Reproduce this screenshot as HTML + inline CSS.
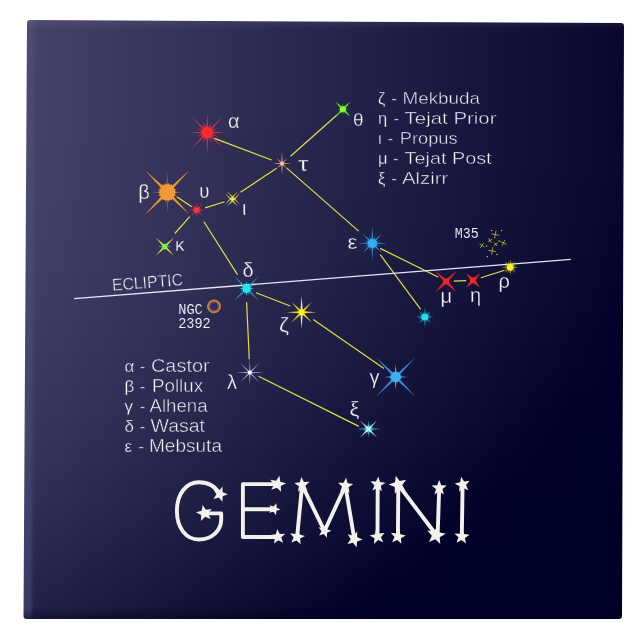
<!DOCTYPE html>
<html><head><meta charset="utf-8"><title>Gemini</title>
<style>
html,body{margin:0;padding:0;background:#fff;}
body{width:644px;height:644px;overflow:hidden;}
svg{display:block;}
text{font-family:"Liberation Sans",sans-serif;}
.mono{font-family:"Liberation Mono",monospace;}
</style></head><body>
<svg width="644" height="644" viewBox="0 0 644 644">
<defs>
<linearGradient id="b0" gradientUnits="userSpaceOnUse" x1="20" y1="0" x2="630" y2="0"><stop offset="0.000" stop-color="#45436a"/><stop offset="0.100" stop-color="#3f3d64"/><stop offset="0.200" stop-color="#39375e"/><stop offset="0.300" stop-color="#323158"/><stop offset="0.400" stop-color="#2c2b52"/><stop offset="0.500" stop-color="#26254c"/><stop offset="0.600" stop-color="#201f46"/><stop offset="0.700" stop-color="#191940"/><stop offset="0.800" stop-color="#13133a"/><stop offset="0.900" stop-color="#0d0d34"/><stop offset="1.000" stop-color="#07072e"/></linearGradient>
<linearGradient id="b1" gradientUnits="userSpaceOnUse" x1="20" y1="0" x2="630" y2="0"><stop offset="0.000" stop-color="#45436a"/><stop offset="0.100" stop-color="#3f3d64"/><stop offset="0.200" stop-color="#39375e"/><stop offset="0.300" stop-color="#323158"/><stop offset="0.400" stop-color="#2c2b52"/><stop offset="0.500" stop-color="#26254c"/><stop offset="0.600" stop-color="#201f46"/><stop offset="0.700" stop-color="#191940"/><stop offset="0.800" stop-color="#13133a"/><stop offset="0.900" stop-color="#0d0d34"/><stop offset="1.000" stop-color="#07072e"/></linearGradient>
<linearGradient id="b2" gradientUnits="userSpaceOnUse" x1="20" y1="0" x2="630" y2="0"><stop offset="0.000" stop-color="#45436a"/><stop offset="0.100" stop-color="#3f3d64"/><stop offset="0.200" stop-color="#39375e"/><stop offset="0.300" stop-color="#323158"/><stop offset="0.400" stop-color="#2c2b52"/><stop offset="0.500" stop-color="#26254c"/><stop offset="0.600" stop-color="#201f46"/><stop offset="0.700" stop-color="#191940"/><stop offset="0.800" stop-color="#13133a"/><stop offset="0.900" stop-color="#0d0d34"/><stop offset="1.000" stop-color="#07072e"/></linearGradient>
<linearGradient id="b3" gradientUnits="userSpaceOnUse" x1="20" y1="0" x2="630" y2="0"><stop offset="0.000" stop-color="#45436a"/><stop offset="0.100" stop-color="#3f3d64"/><stop offset="0.200" stop-color="#39375e"/><stop offset="0.300" stop-color="#323158"/><stop offset="0.400" stop-color="#2c2b52"/><stop offset="0.500" stop-color="#26254c"/><stop offset="0.600" stop-color="#201f46"/><stop offset="0.700" stop-color="#191940"/><stop offset="0.800" stop-color="#13133a"/><stop offset="0.900" stop-color="#0d0d34"/><stop offset="1.000" stop-color="#07072e"/></linearGradient>
<linearGradient id="b4" gradientUnits="userSpaceOnUse" x1="20" y1="0" x2="630" y2="0"><stop offset="0.000" stop-color="#45436a"/><stop offset="0.100" stop-color="#3f3d64"/><stop offset="0.200" stop-color="#39375e"/><stop offset="0.300" stop-color="#323158"/><stop offset="0.400" stop-color="#2c2b52"/><stop offset="0.500" stop-color="#26254c"/><stop offset="0.600" stop-color="#201f46"/><stop offset="0.700" stop-color="#191940"/><stop offset="0.800" stop-color="#13133a"/><stop offset="0.900" stop-color="#0d0d34"/><stop offset="1.000" stop-color="#07072e"/></linearGradient>
<linearGradient id="b5" gradientUnits="userSpaceOnUse" x1="20" y1="0" x2="630" y2="0"><stop offset="0.000" stop-color="#45436a"/><stop offset="0.100" stop-color="#3f3d64"/><stop offset="0.200" stop-color="#39375e"/><stop offset="0.300" stop-color="#323158"/><stop offset="0.400" stop-color="#2c2b52"/><stop offset="0.500" stop-color="#26254c"/><stop offset="0.600" stop-color="#201f46"/><stop offset="0.700" stop-color="#191940"/><stop offset="0.800" stop-color="#13133a"/><stop offset="0.900" stop-color="#0d0d34"/><stop offset="1.000" stop-color="#07072e"/></linearGradient>
<linearGradient id="b6" gradientUnits="userSpaceOnUse" x1="20" y1="0" x2="630" y2="0"><stop offset="0.000" stop-color="#45436a"/><stop offset="0.100" stop-color="#3f3d64"/><stop offset="0.200" stop-color="#39375e"/><stop offset="0.300" stop-color="#323158"/><stop offset="0.400" stop-color="#2c2b52"/><stop offset="0.500" stop-color="#26254c"/><stop offset="0.600" stop-color="#201f46"/><stop offset="0.700" stop-color="#191940"/><stop offset="0.800" stop-color="#13133a"/><stop offset="0.900" stop-color="#0d0d34"/><stop offset="1.000" stop-color="#07072e"/></linearGradient>
<linearGradient id="b7" gradientUnits="userSpaceOnUse" x1="20" y1="0" x2="630" y2="0"><stop offset="0.000" stop-color="#45436a"/><stop offset="0.100" stop-color="#3f3d64"/><stop offset="0.200" stop-color="#39375e"/><stop offset="0.300" stop-color="#323158"/><stop offset="0.400" stop-color="#2c2b52"/><stop offset="0.500" stop-color="#26254c"/><stop offset="0.600" stop-color="#201f46"/><stop offset="0.700" stop-color="#191940"/><stop offset="0.800" stop-color="#13133a"/><stop offset="0.900" stop-color="#0d0d34"/><stop offset="1.000" stop-color="#07072e"/></linearGradient>
<linearGradient id="b8" gradientUnits="userSpaceOnUse" x1="20" y1="0" x2="630" y2="0"><stop offset="0.000" stop-color="#45436a"/><stop offset="0.100" stop-color="#3f3d64"/><stop offset="0.200" stop-color="#39375e"/><stop offset="0.300" stop-color="#323158"/><stop offset="0.400" stop-color="#2c2b52"/><stop offset="0.500" stop-color="#26254c"/><stop offset="0.600" stop-color="#201f46"/><stop offset="0.700" stop-color="#191940"/><stop offset="0.800" stop-color="#13133a"/><stop offset="0.900" stop-color="#0d0d34"/><stop offset="1.000" stop-color="#07072e"/></linearGradient>
<linearGradient id="b9" gradientUnits="userSpaceOnUse" x1="20" y1="0" x2="630" y2="0"><stop offset="0.000" stop-color="#45436a"/><stop offset="0.100" stop-color="#3f3d64"/><stop offset="0.200" stop-color="#39375e"/><stop offset="0.300" stop-color="#323158"/><stop offset="0.400" stop-color="#2c2b52"/><stop offset="0.500" stop-color="#26254c"/><stop offset="0.600" stop-color="#201f46"/><stop offset="0.700" stop-color="#191940"/><stop offset="0.800" stop-color="#13133a"/><stop offset="0.900" stop-color="#0d0d34"/><stop offset="1.000" stop-color="#07072e"/></linearGradient>
<linearGradient id="b10" gradientUnits="userSpaceOnUse" x1="20" y1="0" x2="630" y2="0"><stop offset="0.000" stop-color="#454369"/><stop offset="0.100" stop-color="#3f3d64"/><stop offset="0.200" stop-color="#38375e"/><stop offset="0.300" stop-color="#323158"/><stop offset="0.400" stop-color="#2c2b52"/><stop offset="0.500" stop-color="#26254c"/><stop offset="0.600" stop-color="#201f46"/><stop offset="0.700" stop-color="#191940"/><stop offset="0.800" stop-color="#13133a"/><stop offset="0.900" stop-color="#0d0d34"/><stop offset="1.000" stop-color="#07062e"/></linearGradient>
<linearGradient id="b11" gradientUnits="userSpaceOnUse" x1="20" y1="0" x2="630" y2="0"><stop offset="0.000" stop-color="#454369"/><stop offset="0.100" stop-color="#3f3d64"/><stop offset="0.200" stop-color="#38375e"/><stop offset="0.300" stop-color="#323158"/><stop offset="0.400" stop-color="#2c2b52"/><stop offset="0.500" stop-color="#26254c"/><stop offset="0.600" stop-color="#201f46"/><stop offset="0.700" stop-color="#191940"/><stop offset="0.800" stop-color="#13133a"/><stop offset="0.900" stop-color="#0d0c34"/><stop offset="1.000" stop-color="#07062e"/></linearGradient>
<linearGradient id="b12" gradientUnits="userSpaceOnUse" x1="20" y1="0" x2="630" y2="0"><stop offset="0.000" stop-color="#454369"/><stop offset="0.100" stop-color="#3f3d63"/><stop offset="0.200" stop-color="#38375e"/><stop offset="0.300" stop-color="#323158"/><stop offset="0.400" stop-color="#2c2b52"/><stop offset="0.500" stop-color="#26254c"/><stop offset="0.600" stop-color="#1f1f46"/><stop offset="0.700" stop-color="#191940"/><stop offset="0.800" stop-color="#13123a"/><stop offset="0.900" stop-color="#0d0c34"/><stop offset="1.000" stop-color="#07062e"/></linearGradient>
<linearGradient id="b13" gradientUnits="userSpaceOnUse" x1="20" y1="0" x2="630" y2="0"><stop offset="0.000" stop-color="#454369"/><stop offset="0.100" stop-color="#3f3d63"/><stop offset="0.200" stop-color="#38375d"/><stop offset="0.300" stop-color="#323158"/><stop offset="0.400" stop-color="#2c2b52"/><stop offset="0.500" stop-color="#26254c"/><stop offset="0.600" stop-color="#1f1e46"/><stop offset="0.700" stop-color="#191840"/><stop offset="0.800" stop-color="#13123a"/><stop offset="0.900" stop-color="#0d0c34"/><stop offset="1.000" stop-color="#07062e"/></linearGradient>
<linearGradient id="b14" gradientUnits="userSpaceOnUse" x1="20" y1="0" x2="630" y2="0"><stop offset="0.000" stop-color="#454369"/><stop offset="0.100" stop-color="#3e3d63"/><stop offset="0.200" stop-color="#38375d"/><stop offset="0.300" stop-color="#323158"/><stop offset="0.400" stop-color="#2c2a52"/><stop offset="0.500" stop-color="#26244c"/><stop offset="0.600" stop-color="#1f1e46"/><stop offset="0.700" stop-color="#191840"/><stop offset="0.800" stop-color="#13123a"/><stop offset="0.900" stop-color="#0d0c34"/><stop offset="1.000" stop-color="#06062e"/></linearGradient>
<linearGradient id="b15" gradientUnits="userSpaceOnUse" x1="20" y1="0" x2="630" y2="0"><stop offset="0.000" stop-color="#454369"/><stop offset="0.100" stop-color="#3e3d63"/><stop offset="0.200" stop-color="#38365d"/><stop offset="0.300" stop-color="#323057"/><stop offset="0.400" stop-color="#2c2a52"/><stop offset="0.500" stop-color="#25244c"/><stop offset="0.600" stop-color="#1f1e46"/><stop offset="0.700" stop-color="#191840"/><stop offset="0.800" stop-color="#13123a"/><stop offset="0.900" stop-color="#0d0c34"/><stop offset="1.000" stop-color="#06062e"/></linearGradient>
<linearGradient id="b16" gradientUnits="userSpaceOnUse" x1="20" y1="0" x2="630" y2="0"><stop offset="0.000" stop-color="#454269"/><stop offset="0.100" stop-color="#3e3c63"/><stop offset="0.200" stop-color="#38365d"/><stop offset="0.300" stop-color="#323057"/><stop offset="0.400" stop-color="#2c2a51"/><stop offset="0.500" stop-color="#25244c"/><stop offset="0.600" stop-color="#1f1e46"/><stop offset="0.700" stop-color="#191840"/><stop offset="0.800" stop-color="#13123a"/><stop offset="0.900" stop-color="#0d0c34"/><stop offset="1.000" stop-color="#06062e"/></linearGradient>
<linearGradient id="b17" gradientUnits="userSpaceOnUse" x1="20" y1="0" x2="630" y2="0"><stop offset="0.000" stop-color="#444269"/><stop offset="0.100" stop-color="#3e3c63"/><stop offset="0.200" stop-color="#38365d"/><stop offset="0.300" stop-color="#323057"/><stop offset="0.400" stop-color="#2c2a51"/><stop offset="0.500" stop-color="#25244b"/><stop offset="0.600" stop-color="#1f1e46"/><stop offset="0.700" stop-color="#191840"/><stop offset="0.800" stop-color="#13123a"/><stop offset="0.900" stop-color="#0c0c34"/><stop offset="1.000" stop-color="#06062e"/></linearGradient>
<linearGradient id="b18" gradientUnits="userSpaceOnUse" x1="20" y1="0" x2="630" y2="0"><stop offset="0.000" stop-color="#444269"/><stop offset="0.100" stop-color="#3e3c63"/><stop offset="0.200" stop-color="#38365d"/><stop offset="0.300" stop-color="#323057"/><stop offset="0.400" stop-color="#2b2a51"/><stop offset="0.500" stop-color="#25244b"/><stop offset="0.600" stop-color="#1f1e45"/><stop offset="0.700" stop-color="#191840"/><stop offset="0.800" stop-color="#13123a"/><stop offset="0.900" stop-color="#0c0c34"/><stop offset="1.000" stop-color="#06062e"/></linearGradient>
<linearGradient id="b19" gradientUnits="userSpaceOnUse" x1="20" y1="0" x2="630" y2="0"><stop offset="0.000" stop-color="#444269"/><stop offset="0.100" stop-color="#3e3c63"/><stop offset="0.200" stop-color="#38365d"/><stop offset="0.300" stop-color="#313057"/><stop offset="0.400" stop-color="#2b2a51"/><stop offset="0.500" stop-color="#25244b"/><stop offset="0.600" stop-color="#1f1e45"/><stop offset="0.700" stop-color="#19183f"/><stop offset="0.800" stop-color="#121239"/><stop offset="0.900" stop-color="#0c0c34"/><stop offset="1.000" stop-color="#06062e"/></linearGradient>
<linearGradient id="b20" gradientUnits="userSpaceOnUse" x1="20" y1="0" x2="630" y2="0"><stop offset="0.000" stop-color="#444269"/><stop offset="0.100" stop-color="#3e3c63"/><stop offset="0.200" stop-color="#38365d"/><stop offset="0.300" stop-color="#313057"/><stop offset="0.400" stop-color="#2b2a51"/><stop offset="0.500" stop-color="#25244b"/><stop offset="0.600" stop-color="#1f1e45"/><stop offset="0.700" stop-color="#18183f"/><stop offset="0.800" stop-color="#121239"/><stop offset="0.900" stop-color="#0c0c33"/><stop offset="1.000" stop-color="#06062e"/></linearGradient>
<linearGradient id="b21" gradientUnits="userSpaceOnUse" x1="20" y1="0" x2="630" y2="0"><stop offset="0.000" stop-color="#444268"/><stop offset="0.100" stop-color="#3e3c63"/><stop offset="0.200" stop-color="#37365d"/><stop offset="0.300" stop-color="#313057"/><stop offset="0.400" stop-color="#2b2a51"/><stop offset="0.500" stop-color="#25244b"/><stop offset="0.600" stop-color="#1f1e45"/><stop offset="0.700" stop-color="#18183f"/><stop offset="0.800" stop-color="#121239"/><stop offset="0.900" stop-color="#0c0c33"/><stop offset="1.000" stop-color="#06052d"/></linearGradient>
<linearGradient id="b22" gradientUnits="userSpaceOnUse" x1="20" y1="0" x2="630" y2="0"><stop offset="0.000" stop-color="#444268"/><stop offset="0.100" stop-color="#3d3c62"/><stop offset="0.200" stop-color="#37365d"/><stop offset="0.300" stop-color="#313057"/><stop offset="0.400" stop-color="#2b2a51"/><stop offset="0.500" stop-color="#25244b"/><stop offset="0.600" stop-color="#1e1d45"/><stop offset="0.700" stop-color="#18173f"/><stop offset="0.800" stop-color="#121139"/><stop offset="0.900" stop-color="#0c0b33"/><stop offset="1.000" stop-color="#05052d"/></linearGradient>
<linearGradient id="b23" gradientUnits="userSpaceOnUse" x1="20" y1="0" x2="630" y2="0"><stop offset="0.000" stop-color="#444268"/><stop offset="0.100" stop-color="#3d3b62"/><stop offset="0.200" stop-color="#37355c"/><stop offset="0.300" stop-color="#312f56"/><stop offset="0.400" stop-color="#2b2951"/><stop offset="0.500" stop-color="#24234b"/><stop offset="0.600" stop-color="#1e1d45"/><stop offset="0.700" stop-color="#18173f"/><stop offset="0.800" stop-color="#121139"/><stop offset="0.900" stop-color="#0c0b33"/><stop offset="1.000" stop-color="#05052d"/></linearGradient>
<linearGradient id="b24" gradientUnits="userSpaceOnUse" x1="20" y1="0" x2="630" y2="0"><stop offset="0.000" stop-color="#434168"/><stop offset="0.100" stop-color="#3d3b62"/><stop offset="0.200" stop-color="#37355c"/><stop offset="0.300" stop-color="#312f56"/><stop offset="0.400" stop-color="#2a2950"/><stop offset="0.500" stop-color="#24234a"/><stop offset="0.600" stop-color="#1e1d45"/><stop offset="0.700" stop-color="#18173f"/><stop offset="0.800" stop-color="#121139"/><stop offset="0.900" stop-color="#0b0b33"/><stop offset="1.000" stop-color="#05052d"/></linearGradient>
<linearGradient id="b25" gradientUnits="userSpaceOnUse" x1="20" y1="0" x2="630" y2="0"><stop offset="0.000" stop-color="#434168"/><stop offset="0.100" stop-color="#3d3b62"/><stop offset="0.200" stop-color="#37355c"/><stop offset="0.300" stop-color="#302f56"/><stop offset="0.400" stop-color="#2a2950"/><stop offset="0.500" stop-color="#24234a"/><stop offset="0.600" stop-color="#1e1d44"/><stop offset="0.700" stop-color="#18173e"/><stop offset="0.800" stop-color="#111138"/><stop offset="0.900" stop-color="#0b0b33"/><stop offset="1.000" stop-color="#05052d"/></linearGradient>
<linearGradient id="b26" gradientUnits="userSpaceOnUse" x1="20" y1="0" x2="630" y2="0"><stop offset="0.000" stop-color="#434168"/><stop offset="0.100" stop-color="#3d3b62"/><stop offset="0.200" stop-color="#36355c"/><stop offset="0.300" stop-color="#302f56"/><stop offset="0.400" stop-color="#2a2950"/><stop offset="0.500" stop-color="#24234a"/><stop offset="0.600" stop-color="#1e1d44"/><stop offset="0.700" stop-color="#17173e"/><stop offset="0.800" stop-color="#111138"/><stop offset="0.900" stop-color="#0b0b32"/><stop offset="1.000" stop-color="#05052c"/></linearGradient>
<linearGradient id="b27" gradientUnits="userSpaceOnUse" x1="20" y1="0" x2="630" y2="0"><stop offset="0.000" stop-color="#434167"/><stop offset="0.100" stop-color="#3c3b61"/><stop offset="0.200" stop-color="#36355c"/><stop offset="0.300" stop-color="#302f56"/><stop offset="0.400" stop-color="#2a2950"/><stop offset="0.500" stop-color="#24234a"/><stop offset="0.600" stop-color="#1d1c44"/><stop offset="0.700" stop-color="#17163e"/><stop offset="0.800" stop-color="#111038"/><stop offset="0.900" stop-color="#0b0a32"/><stop offset="1.000" stop-color="#04042c"/></linearGradient>
<linearGradient id="b28" gradientUnits="userSpaceOnUse" x1="20" y1="0" x2="630" y2="0"><stop offset="0.000" stop-color="#424067"/><stop offset="0.100" stop-color="#3c3a61"/><stop offset="0.200" stop-color="#36345b"/><stop offset="0.300" stop-color="#302e55"/><stop offset="0.400" stop-color="#2a284f"/><stop offset="0.500" stop-color="#23224a"/><stop offset="0.600" stop-color="#1d1c44"/><stop offset="0.700" stop-color="#17163e"/><stop offset="0.800" stop-color="#111038"/><stop offset="0.900" stop-color="#0a0a32"/><stop offset="1.000" stop-color="#04042c"/></linearGradient>
<linearGradient id="b29" gradientUnits="userSpaceOnUse" x1="20" y1="0" x2="630" y2="0"><stop offset="0.000" stop-color="#424067"/><stop offset="0.100" stop-color="#3c3a61"/><stop offset="0.200" stop-color="#36345b"/><stop offset="0.300" stop-color="#302e55"/><stop offset="0.400" stop-color="#29284f"/><stop offset="0.500" stop-color="#232249"/><stop offset="0.600" stop-color="#1d1c43"/><stop offset="0.700" stop-color="#17163d"/><stop offset="0.800" stop-color="#101038"/><stop offset="0.900" stop-color="#0a0a32"/><stop offset="1.000" stop-color="#04042c"/></linearGradient>
<linearGradient id="b30" gradientUnits="userSpaceOnUse" x1="20" y1="0" x2="630" y2="0"><stop offset="0.000" stop-color="#424067"/><stop offset="0.100" stop-color="#3c3a61"/><stop offset="0.200" stop-color="#35345b"/><stop offset="0.300" stop-color="#2f2e55"/><stop offset="0.400" stop-color="#29284f"/><stop offset="0.500" stop-color="#232249"/><stop offset="0.600" stop-color="#1d1c43"/><stop offset="0.700" stop-color="#16163d"/><stop offset="0.800" stop-color="#101037"/><stop offset="0.900" stop-color="#0a0a31"/><stop offset="1.000" stop-color="#04042b"/></linearGradient>
<linearGradient id="b31" gradientUnits="userSpaceOnUse" x1="20" y1="0" x2="630" y2="0"><stop offset="0.000" stop-color="#424066"/><stop offset="0.100" stop-color="#3b3a60"/><stop offset="0.200" stop-color="#35345b"/><stop offset="0.300" stop-color="#2f2e55"/><stop offset="0.400" stop-color="#29284f"/><stop offset="0.500" stop-color="#232149"/><stop offset="0.600" stop-color="#1c1b43"/><stop offset="0.700" stop-color="#16153d"/><stop offset="0.800" stop-color="#100f37"/><stop offset="0.900" stop-color="#0a0931"/><stop offset="1.000" stop-color="#03032b"/></linearGradient>
<linearGradient id="b32" gradientUnits="userSpaceOnUse" x1="20" y1="0" x2="630" y2="0"><stop offset="0.000" stop-color="#413f66"/><stop offset="0.100" stop-color="#3b3960"/><stop offset="0.200" stop-color="#35335a"/><stop offset="0.300" stop-color="#2f2d54"/><stop offset="0.400" stop-color="#28274e"/><stop offset="0.500" stop-color="#222148"/><stop offset="0.600" stop-color="#1c1b43"/><stop offset="0.700" stop-color="#16153d"/><stop offset="0.800" stop-color="#100f37"/><stop offset="0.900" stop-color="#090931"/><stop offset="1.000" stop-color="#03032b"/></linearGradient>
<linearGradient id="b33" gradientUnits="userSpaceOnUse" x1="20" y1="0" x2="630" y2="0"><stop offset="0.000" stop-color="#413f66"/><stop offset="0.100" stop-color="#3b3960"/><stop offset="0.200" stop-color="#35335a"/><stop offset="0.300" stop-color="#2e2d54"/><stop offset="0.400" stop-color="#28274e"/><stop offset="0.500" stop-color="#222148"/><stop offset="0.600" stop-color="#1c1b42"/><stop offset="0.700" stop-color="#15153c"/><stop offset="0.800" stop-color="#0f0f36"/><stop offset="0.900" stop-color="#090931"/><stop offset="1.000" stop-color="#03032b"/></linearGradient>
<linearGradient id="b34" gradientUnits="userSpaceOnUse" x1="20" y1="0" x2="630" y2="0"><stop offset="0.000" stop-color="#413f65"/><stop offset="0.100" stop-color="#3a395f"/><stop offset="0.200" stop-color="#34335a"/><stop offset="0.300" stop-color="#2e2d54"/><stop offset="0.400" stop-color="#28274e"/><stop offset="0.500" stop-color="#222148"/><stop offset="0.600" stop-color="#1b1a42"/><stop offset="0.700" stop-color="#15143c"/><stop offset="0.800" stop-color="#0f0e36"/><stop offset="0.900" stop-color="#090830"/><stop offset="1.000" stop-color="#02022a"/></linearGradient>
<linearGradient id="b35" gradientUnits="userSpaceOnUse" x1="20" y1="0" x2="630" y2="0"><stop offset="0.000" stop-color="#403e65"/><stop offset="0.100" stop-color="#3a385f"/><stop offset="0.200" stop-color="#343259"/><stop offset="0.300" stop-color="#2e2c53"/><stop offset="0.400" stop-color="#27264d"/><stop offset="0.500" stop-color="#212048"/><stop offset="0.600" stop-color="#1b1a42"/><stop offset="0.700" stop-color="#15143c"/><stop offset="0.800" stop-color="#0f0e36"/><stop offset="0.900" stop-color="#080830"/><stop offset="1.000" stop-color="#02022a"/></linearGradient>
<linearGradient id="b36" gradientUnits="userSpaceOnUse" x1="20" y1="0" x2="630" y2="0"><stop offset="0.000" stop-color="#403e65"/><stop offset="0.100" stop-color="#3a385f"/><stop offset="0.200" stop-color="#333259"/><stop offset="0.300" stop-color="#2d2c53"/><stop offset="0.400" stop-color="#27264d"/><stop offset="0.500" stop-color="#212047"/><stop offset="0.600" stop-color="#1b1a41"/><stop offset="0.700" stop-color="#14143b"/><stop offset="0.800" stop-color="#0e0e35"/><stop offset="0.900" stop-color="#080830"/><stop offset="1.000" stop-color="#02022a"/></linearGradient>
<linearGradient id="b37" gradientUnits="userSpaceOnUse" x1="20" y1="0" x2="630" y2="0"><stop offset="0.000" stop-color="#403e64"/><stop offset="0.100" stop-color="#39385e"/><stop offset="0.200" stop-color="#333259"/><stop offset="0.300" stop-color="#2d2b53"/><stop offset="0.400" stop-color="#27254d"/><stop offset="0.500" stop-color="#201f47"/><stop offset="0.600" stop-color="#1a1941"/><stop offset="0.700" stop-color="#14133b"/><stop offset="0.800" stop-color="#0e0d35"/><stop offset="0.900" stop-color="#08072f"/><stop offset="1.000" stop-color="#010129"/></linearGradient>
<linearGradient id="b38" gradientUnits="userSpaceOnUse" x1="20" y1="0" x2="630" y2="0"><stop offset="0.000" stop-color="#3f3d64"/><stop offset="0.100" stop-color="#39375e"/><stop offset="0.200" stop-color="#333158"/><stop offset="0.300" stop-color="#2c2b52"/><stop offset="0.400" stop-color="#26254c"/><stop offset="0.500" stop-color="#201f46"/><stop offset="0.600" stop-color="#1a1940"/><stop offset="0.700" stop-color="#14133b"/><stop offset="0.800" stop-color="#0d0d35"/><stop offset="0.900" stop-color="#07072f"/><stop offset="1.000" stop-color="#010129"/></linearGradient>
<linearGradient id="b39" gradientUnits="userSpaceOnUse" x1="20" y1="0" x2="630" y2="0"><stop offset="0.000" stop-color="#3f3d64"/><stop offset="0.100" stop-color="#38375e"/><stop offset="0.200" stop-color="#323158"/><stop offset="0.300" stop-color="#2c2b52"/><stop offset="0.400" stop-color="#26254c"/><stop offset="0.500" stop-color="#201f46"/><stop offset="0.600" stop-color="#191940"/><stop offset="0.700" stop-color="#13133a"/><stop offset="0.800" stop-color="#0d0d34"/><stop offset="0.900" stop-color="#07062e"/><stop offset="1.000" stop-color="#000028"/></linearGradient>
<linearGradient id="b40" gradientUnits="userSpaceOnUse" x1="20" y1="0" x2="630" y2="0"><stop offset="0.000" stop-color="#3e3c63"/><stop offset="0.100" stop-color="#38365d"/><stop offset="0.200" stop-color="#323057"/><stop offset="0.300" stop-color="#2c2a51"/><stop offset="0.400" stop-color="#25244b"/><stop offset="0.500" stop-color="#1f1e46"/><stop offset="0.600" stop-color="#191840"/><stop offset="0.700" stop-color="#13123a"/><stop offset="0.800" stop-color="#0c0c34"/><stop offset="0.900" stop-color="#06062e"/><stop offset="1.000" stop-color="#000028"/></linearGradient>
<linearGradient id="b41" gradientUnits="userSpaceOnUse" x1="20" y1="0" x2="630" y2="0"><stop offset="0.000" stop-color="#3e3c63"/><stop offset="0.100" stop-color="#38365d"/><stop offset="0.200" stop-color="#313057"/><stop offset="0.300" stop-color="#2b2a51"/><stop offset="0.400" stop-color="#25244b"/><stop offset="0.500" stop-color="#1f1e45"/><stop offset="0.600" stop-color="#18183f"/><stop offset="0.700" stop-color="#121239"/><stop offset="0.800" stop-color="#0c0c33"/><stop offset="0.900" stop-color="#06062d"/><stop offset="1.000" stop-color="#000028"/></linearGradient>
<linearGradient id="b42" gradientUnits="userSpaceOnUse" x1="20" y1="0" x2="630" y2="0"><stop offset="0.000" stop-color="#3d3b62"/><stop offset="0.100" stop-color="#37355c"/><stop offset="0.200" stop-color="#312f56"/><stop offset="0.300" stop-color="#2b2950"/><stop offset="0.400" stop-color="#24234b"/><stop offset="0.500" stop-color="#1e1d45"/><stop offset="0.600" stop-color="#18173f"/><stop offset="0.700" stop-color="#121139"/><stop offset="0.800" stop-color="#0c0b33"/><stop offset="0.900" stop-color="#05052d"/><stop offset="1.000" stop-color="#000028"/></linearGradient>
<linearGradient id="b43" gradientUnits="userSpaceOnUse" x1="20" y1="0" x2="630" y2="0"><stop offset="0.000" stop-color="#3d3b62"/><stop offset="0.100" stop-color="#37355c"/><stop offset="0.200" stop-color="#302f56"/><stop offset="0.300" stop-color="#2a2950"/><stop offset="0.400" stop-color="#24234a"/><stop offset="0.500" stop-color="#1e1d44"/><stop offset="0.600" stop-color="#17173e"/><stop offset="0.700" stop-color="#111138"/><stop offset="0.800" stop-color="#0b0b32"/><stop offset="0.900" stop-color="#05052d"/><stop offset="1.000" stop-color="#000028"/></linearGradient>
<linearGradient id="b44" gradientUnits="userSpaceOnUse" x1="20" y1="0" x2="630" y2="0"><stop offset="0.000" stop-color="#3c3a61"/><stop offset="0.100" stop-color="#36345b"/><stop offset="0.200" stop-color="#302e55"/><stop offset="0.300" stop-color="#2a2850"/><stop offset="0.400" stop-color="#23224a"/><stop offset="0.500" stop-color="#1d1c44"/><stop offset="0.600" stop-color="#17163e"/><stop offset="0.700" stop-color="#111038"/><stop offset="0.800" stop-color="#0a0a32"/><stop offset="0.900" stop-color="#04042c"/><stop offset="1.000" stop-color="#000028"/></linearGradient>
<linearGradient id="b45" gradientUnits="userSpaceOnUse" x1="20" y1="0" x2="630" y2="0"><stop offset="0.000" stop-color="#3c3a61"/><stop offset="0.100" stop-color="#36345b"/><stop offset="0.200" stop-color="#2f2e55"/><stop offset="0.300" stop-color="#29284f"/><stop offset="0.400" stop-color="#232249"/><stop offset="0.500" stop-color="#1d1c43"/><stop offset="0.600" stop-color="#16163d"/><stop offset="0.700" stop-color="#101037"/><stop offset="0.800" stop-color="#0a0a31"/><stop offset="0.900" stop-color="#04042c"/><stop offset="1.000" stop-color="#000028"/></linearGradient>
<linearGradient id="b46" gradientUnits="userSpaceOnUse" x1="20" y1="0" x2="630" y2="0"><stop offset="0.000" stop-color="#3b3960"/><stop offset="0.100" stop-color="#35335a"/><stop offset="0.200" stop-color="#2f2d54"/><stop offset="0.300" stop-color="#29274e"/><stop offset="0.400" stop-color="#222149"/><stop offset="0.500" stop-color="#1c1b43"/><stop offset="0.600" stop-color="#16153d"/><stop offset="0.700" stop-color="#100f37"/><stop offset="0.800" stop-color="#090931"/><stop offset="0.900" stop-color="#03032b"/><stop offset="1.000" stop-color="#000028"/></linearGradient>
<linearGradient id="b47" gradientUnits="userSpaceOnUse" x1="20" y1="0" x2="630" y2="0"><stop offset="0.000" stop-color="#3b3960"/><stop offset="0.100" stop-color="#34335a"/><stop offset="0.200" stop-color="#2e2d54"/><stop offset="0.300" stop-color="#28274e"/><stop offset="0.400" stop-color="#222148"/><stop offset="0.500" stop-color="#1b1b42"/><stop offset="0.600" stop-color="#15153c"/><stop offset="0.700" stop-color="#0f0f36"/><stop offset="0.800" stop-color="#090930"/><stop offset="0.900" stop-color="#03032a"/><stop offset="1.000" stop-color="#000028"/></linearGradient>
<linearGradient id="b48" gradientUnits="userSpaceOnUse" x1="20" y1="0" x2="630" y2="0"><stop offset="0.000" stop-color="#3a385f"/><stop offset="0.100" stop-color="#343259"/><stop offset="0.200" stop-color="#2e2c53"/><stop offset="0.300" stop-color="#27264d"/><stop offset="0.400" stop-color="#212047"/><stop offset="0.500" stop-color="#1b1a42"/><stop offset="0.600" stop-color="#15143c"/><stop offset="0.700" stop-color="#0e0e36"/><stop offset="0.800" stop-color="#080830"/><stop offset="0.900" stop-color="#02022a"/><stop offset="1.000" stop-color="#000028"/></linearGradient>
<linearGradient id="b49" gradientUnits="userSpaceOnUse" x1="20" y1="0" x2="630" y2="0"><stop offset="0.000" stop-color="#39385f"/><stop offset="0.100" stop-color="#333259"/><stop offset="0.200" stop-color="#2d2c53"/><stop offset="0.300" stop-color="#27264d"/><stop offset="0.400" stop-color="#202047"/><stop offset="0.500" stop-color="#1a1941"/><stop offset="0.600" stop-color="#14133b"/><stop offset="0.700" stop-color="#0e0d35"/><stop offset="0.800" stop-color="#08072f"/><stop offset="0.900" stop-color="#010129"/><stop offset="1.000" stop-color="#000028"/></linearGradient>
<linearGradient id="b50" gradientUnits="userSpaceOnUse" x1="20" y1="0" x2="630" y2="0"><stop offset="0.000" stop-color="#39375e"/><stop offset="0.100" stop-color="#333158"/><stop offset="0.200" stop-color="#2c2b52"/><stop offset="0.300" stop-color="#26254c"/><stop offset="0.400" stop-color="#201f46"/><stop offset="0.500" stop-color="#1a1940"/><stop offset="0.600" stop-color="#13133a"/><stop offset="0.700" stop-color="#0d0d35"/><stop offset="0.800" stop-color="#07072f"/><stop offset="0.900" stop-color="#010129"/><stop offset="1.000" stop-color="#000028"/></linearGradient>
<linearGradient id="b51" gradientUnits="userSpaceOnUse" x1="20" y1="0" x2="630" y2="0"><stop offset="0.000" stop-color="#38365d"/><stop offset="0.100" stop-color="#323057"/><stop offset="0.200" stop-color="#2c2a51"/><stop offset="0.300" stop-color="#25244c"/><stop offset="0.400" stop-color="#1f1e46"/><stop offset="0.500" stop-color="#191840"/><stop offset="0.600" stop-color="#13123a"/><stop offset="0.700" stop-color="#0d0c34"/><stop offset="0.800" stop-color="#06062e"/><stop offset="0.900" stop-color="#000028"/><stop offset="1.000" stop-color="#000028"/></linearGradient>
<linearGradient id="b52" gradientUnits="userSpaceOnUse" x1="20" y1="0" x2="630" y2="0"><stop offset="0.000" stop-color="#37365d"/><stop offset="0.100" stop-color="#313057"/><stop offset="0.200" stop-color="#2b2a51"/><stop offset="0.300" stop-color="#25244b"/><stop offset="0.400" stop-color="#1f1e45"/><stop offset="0.500" stop-color="#18183f"/><stop offset="0.600" stop-color="#121239"/><stop offset="0.700" stop-color="#0c0b33"/><stop offset="0.800" stop-color="#06052d"/><stop offset="0.900" stop-color="#000028"/><stop offset="1.000" stop-color="#000028"/></linearGradient>
<linearGradient id="b53" gradientUnits="userSpaceOnUse" x1="20" y1="0" x2="630" y2="0"><stop offset="0.000" stop-color="#37355c"/><stop offset="0.100" stop-color="#302f56"/><stop offset="0.200" stop-color="#2a2950"/><stop offset="0.300" stop-color="#24234a"/><stop offset="0.400" stop-color="#1e1d44"/><stop offset="0.500" stop-color="#18173e"/><stop offset="0.600" stop-color="#111139"/><stop offset="0.700" stop-color="#0b0b33"/><stop offset="0.800" stop-color="#05052d"/><stop offset="0.900" stop-color="#000028"/><stop offset="1.000" stop-color="#000028"/></linearGradient>
<linearGradient id="b54" gradientUnits="userSpaceOnUse" x1="20" y1="0" x2="630" y2="0"><stop offset="0.000" stop-color="#36345b"/><stop offset="0.100" stop-color="#302e55"/><stop offset="0.200" stop-color="#2a284f"/><stop offset="0.300" stop-color="#23224a"/><stop offset="0.400" stop-color="#1d1c44"/><stop offset="0.500" stop-color="#17163e"/><stop offset="0.600" stop-color="#111038"/><stop offset="0.700" stop-color="#0a0a32"/><stop offset="0.800" stop-color="#04042c"/><stop offset="0.900" stop-color="#000028"/><stop offset="1.000" stop-color="#000028"/></linearGradient>
<linearGradient id="b55" gradientUnits="userSpaceOnUse" x1="20" y1="0" x2="630" y2="0"><stop offset="0.000" stop-color="#35345b"/><stop offset="0.100" stop-color="#2f2e55"/><stop offset="0.200" stop-color="#29284f"/><stop offset="0.300" stop-color="#232249"/><stop offset="0.400" stop-color="#1c1c43"/><stop offset="0.500" stop-color="#16153d"/><stop offset="0.600" stop-color="#100f37"/><stop offset="0.700" stop-color="#0a0931"/><stop offset="0.800" stop-color="#03032b"/><stop offset="0.900" stop-color="#000028"/><stop offset="1.000" stop-color="#000028"/></linearGradient>
<linearGradient id="b56" gradientUnits="userSpaceOnUse" x1="20" y1="0" x2="630" y2="0"><stop offset="0.000" stop-color="#34335a"/><stop offset="0.100" stop-color="#2e2d54"/><stop offset="0.200" stop-color="#28274e"/><stop offset="0.300" stop-color="#222148"/><stop offset="0.400" stop-color="#1c1b42"/><stop offset="0.500" stop-color="#15153c"/><stop offset="0.600" stop-color="#0f0f36"/><stop offset="0.700" stop-color="#090930"/><stop offset="0.800" stop-color="#03032b"/><stop offset="0.900" stop-color="#000028"/><stop offset="1.000" stop-color="#000028"/></linearGradient>
<linearGradient id="b57" gradientUnits="userSpaceOnUse" x1="20" y1="0" x2="630" y2="0"><stop offset="0.000" stop-color="#343259"/><stop offset="0.100" stop-color="#2d2c53"/><stop offset="0.200" stop-color="#27264d"/><stop offset="0.300" stop-color="#212047"/><stop offset="0.400" stop-color="#1b1a41"/><stop offset="0.500" stop-color="#15143c"/><stop offset="0.600" stop-color="#0e0e36"/><stop offset="0.700" stop-color="#080830"/><stop offset="0.800" stop-color="#02022a"/><stop offset="0.900" stop-color="#000028"/><stop offset="1.000" stop-color="#000028"/></linearGradient>
<linearGradient id="b58" gradientUnits="userSpaceOnUse" x1="20" y1="0" x2="630" y2="0"><stop offset="0.000" stop-color="#333158"/><stop offset="0.100" stop-color="#2d2b52"/><stop offset="0.200" stop-color="#26254d"/><stop offset="0.300" stop-color="#201f47"/><stop offset="0.400" stop-color="#1a1941"/><stop offset="0.500" stop-color="#14133b"/><stop offset="0.600" stop-color="#0e0d35"/><stop offset="0.700" stop-color="#07072f"/><stop offset="0.800" stop-color="#010129"/><stop offset="0.900" stop-color="#000028"/><stop offset="1.000" stop-color="#000028"/></linearGradient>
<linearGradient id="b59" gradientUnits="userSpaceOnUse" x1="20" y1="0" x2="630" y2="0"><stop offset="0.000" stop-color="#323158"/><stop offset="0.100" stop-color="#2c2b52"/><stop offset="0.200" stop-color="#26244c"/><stop offset="0.300" stop-color="#1f1e46"/><stop offset="0.400" stop-color="#191840"/><stop offset="0.500" stop-color="#13123a"/><stop offset="0.600" stop-color="#0d0c34"/><stop offset="0.700" stop-color="#07062e"/><stop offset="0.800" stop-color="#000028"/><stop offset="0.900" stop-color="#000028"/><stop offset="1.000" stop-color="#000028"/></linearGradient>
<linearGradient id="b60" gradientUnits="userSpaceOnUse" x1="20" y1="0" x2="630" y2="0"><stop offset="0.000" stop-color="#313057"/><stop offset="0.100" stop-color="#2b2a51"/><stop offset="0.200" stop-color="#25244b"/><stop offset="0.300" stop-color="#1f1e45"/><stop offset="0.400" stop-color="#18183f"/><stop offset="0.500" stop-color="#121239"/><stop offset="0.600" stop-color="#0c0c33"/><stop offset="0.700" stop-color="#06052d"/><stop offset="0.800" stop-color="#000028"/><stop offset="0.900" stop-color="#000028"/><stop offset="1.000" stop-color="#000028"/></linearGradient>
<linearGradient id="b61" gradientUnits="userSpaceOnUse" x1="20" y1="0" x2="630" y2="0"><stop offset="0.000" stop-color="#302f56"/><stop offset="0.100" stop-color="#2a2950"/><stop offset="0.200" stop-color="#24234a"/><stop offset="0.300" stop-color="#1e1d44"/><stop offset="0.400" stop-color="#17173e"/><stop offset="0.500" stop-color="#111138"/><stop offset="0.600" stop-color="#0b0b32"/><stop offset="0.700" stop-color="#05052d"/><stop offset="0.800" stop-color="#000028"/><stop offset="0.900" stop-color="#000028"/><stop offset="1.000" stop-color="#000028"/></linearGradient>
<linearGradient id="b62" gradientUnits="userSpaceOnUse" x1="20" y1="0" x2="630" y2="0"><stop offset="0.000" stop-color="#2f2e55"/><stop offset="0.100" stop-color="#29284f"/><stop offset="0.200" stop-color="#232249"/><stop offset="0.300" stop-color="#1d1c43"/><stop offset="0.400" stop-color="#17163d"/><stop offset="0.500" stop-color="#101038"/><stop offset="0.600" stop-color="#0a0a32"/><stop offset="0.700" stop-color="#04042c"/><stop offset="0.800" stop-color="#000028"/><stop offset="0.900" stop-color="#000028"/><stop offset="1.000" stop-color="#000028"/></linearGradient>
<linearGradient id="b63" gradientUnits="userSpaceOnUse" x1="20" y1="0" x2="630" y2="0"><stop offset="0.000" stop-color="#2f2d54"/><stop offset="0.100" stop-color="#28274e"/><stop offset="0.200" stop-color="#222148"/><stop offset="0.300" stop-color="#1c1b42"/><stop offset="0.400" stop-color="#16153d"/><stop offset="0.500" stop-color="#0f0f37"/><stop offset="0.600" stop-color="#090931"/><stop offset="0.700" stop-color="#03032b"/><stop offset="0.800" stop-color="#000028"/><stop offset="0.900" stop-color="#000028"/><stop offset="1.000" stop-color="#000028"/></linearGradient>
<linearGradient id="b64" gradientUnits="userSpaceOnUse" x1="20" y1="0" x2="630" y2="0"><stop offset="0.000" stop-color="#2e2c53"/><stop offset="0.100" stop-color="#27264d"/><stop offset="0.200" stop-color="#212047"/><stop offset="0.300" stop-color="#1b1a42"/><stop offset="0.400" stop-color="#15143c"/><stop offset="0.500" stop-color="#0e0e36"/><stop offset="0.600" stop-color="#080830"/><stop offset="0.700" stop-color="#02022a"/><stop offset="0.800" stop-color="#000028"/><stop offset="0.900" stop-color="#000028"/><stop offset="1.000" stop-color="#000028"/></linearGradient>
<linearGradient id="b65" gradientUnits="userSpaceOnUse" x1="20" y1="0" x2="630" y2="0"><stop offset="0.000" stop-color="#2d2b52"/><stop offset="0.100" stop-color="#26254c"/><stop offset="0.200" stop-color="#201f47"/><stop offset="0.300" stop-color="#1a1941"/><stop offset="0.400" stop-color="#14133b"/><stop offset="0.500" stop-color="#0e0d35"/><stop offset="0.600" stop-color="#07072f"/><stop offset="0.700" stop-color="#010129"/><stop offset="0.800" stop-color="#000028"/><stop offset="0.900" stop-color="#000028"/><stop offset="1.000" stop-color="#000028"/></linearGradient>
<linearGradient id="b66" gradientUnits="userSpaceOnUse" x1="20" y1="0" x2="630" y2="0"><stop offset="0.000" stop-color="#2c2a51"/><stop offset="0.100" stop-color="#25244c"/><stop offset="0.200" stop-color="#1f1e46"/><stop offset="0.300" stop-color="#191840"/><stop offset="0.400" stop-color="#13123a"/><stop offset="0.500" stop-color="#0d0c34"/><stop offset="0.600" stop-color="#06062e"/><stop offset="0.700" stop-color="#000028"/><stop offset="0.800" stop-color="#000028"/><stop offset="0.900" stop-color="#000028"/><stop offset="1.000" stop-color="#000028"/></linearGradient>
<linearGradient id="b67" gradientUnits="userSpaceOnUse" x1="20" y1="0" x2="630" y2="0"><stop offset="0.000" stop-color="#2b2950"/><stop offset="0.100" stop-color="#24234b"/><stop offset="0.200" stop-color="#1e1d45"/><stop offset="0.300" stop-color="#18173f"/><stop offset="0.400" stop-color="#121139"/><stop offset="0.500" stop-color="#0c0b33"/><stop offset="0.600" stop-color="#05052d"/><stop offset="0.700" stop-color="#000028"/><stop offset="0.800" stop-color="#000028"/><stop offset="0.900" stop-color="#000028"/><stop offset="1.000" stop-color="#000028"/></linearGradient>
<linearGradient id="b68" gradientUnits="userSpaceOnUse" x1="20" y1="0" x2="630" y2="0"><stop offset="0.000" stop-color="#2a284f"/><stop offset="0.100" stop-color="#23224a"/><stop offset="0.200" stop-color="#1d1c44"/><stop offset="0.300" stop-color="#17163e"/><stop offset="0.400" stop-color="#111038"/><stop offset="0.500" stop-color="#0a0a32"/><stop offset="0.600" stop-color="#04042c"/><stop offset="0.700" stop-color="#000028"/><stop offset="0.800" stop-color="#000028"/><stop offset="0.900" stop-color="#000028"/><stop offset="1.000" stop-color="#000028"/></linearGradient>
<linearGradient id="b69" gradientUnits="userSpaceOnUse" x1="20" y1="0" x2="630" y2="0"><stop offset="0.000" stop-color="#29274e"/><stop offset="0.100" stop-color="#222149"/><stop offset="0.200" stop-color="#1c1b43"/><stop offset="0.300" stop-color="#16153d"/><stop offset="0.400" stop-color="#100f37"/><stop offset="0.500" stop-color="#090931"/><stop offset="0.600" stop-color="#03032b"/><stop offset="0.700" stop-color="#000028"/><stop offset="0.800" stop-color="#000028"/><stop offset="0.900" stop-color="#000028"/><stop offset="1.000" stop-color="#000028"/></linearGradient>
<linearGradient id="b70" gradientUnits="userSpaceOnUse" x1="20" y1="0" x2="630" y2="0"><stop offset="0.000" stop-color="#27264d"/><stop offset="0.100" stop-color="#212048"/><stop offset="0.200" stop-color="#1b1a42"/><stop offset="0.300" stop-color="#15143c"/><stop offset="0.400" stop-color="#0f0e36"/><stop offset="0.500" stop-color="#080830"/><stop offset="0.600" stop-color="#02022a"/><stop offset="0.700" stop-color="#000028"/><stop offset="0.800" stop-color="#000028"/><stop offset="0.900" stop-color="#000028"/><stop offset="1.000" stop-color="#000028"/></linearGradient>
<linearGradient id="b71" gradientUnits="userSpaceOnUse" x1="20" y1="0" x2="630" y2="0"><stop offset="0.000" stop-color="#26254c"/><stop offset="0.100" stop-color="#201f46"/><stop offset="0.200" stop-color="#1a1941"/><stop offset="0.300" stop-color="#14133b"/><stop offset="0.400" stop-color="#0d0d35"/><stop offset="0.500" stop-color="#07072f"/><stop offset="0.600" stop-color="#010129"/><stop offset="0.700" stop-color="#000028"/><stop offset="0.800" stop-color="#000028"/><stop offset="0.900" stop-color="#000028"/><stop offset="1.000" stop-color="#000028"/></linearGradient>
<linearGradient id="b72" gradientUnits="userSpaceOnUse" x1="20" y1="0" x2="630" y2="0"><stop offset="0.000" stop-color="#25244b"/><stop offset="0.100" stop-color="#1f1e45"/><stop offset="0.200" stop-color="#191840"/><stop offset="0.300" stop-color="#13123a"/><stop offset="0.400" stop-color="#0c0c34"/><stop offset="0.500" stop-color="#06062e"/><stop offset="0.600" stop-color="#000028"/><stop offset="0.700" stop-color="#000028"/><stop offset="0.800" stop-color="#000028"/><stop offset="0.900" stop-color="#000028"/><stop offset="1.000" stop-color="#000028"/></linearGradient>
<linearGradient id="b73" gradientUnits="userSpaceOnUse" x1="20" y1="0" x2="630" y2="0"><stop offset="0.000" stop-color="#24234a"/><stop offset="0.100" stop-color="#1e1d44"/><stop offset="0.200" stop-color="#18173e"/><stop offset="0.300" stop-color="#111138"/><stop offset="0.400" stop-color="#0b0b33"/><stop offset="0.500" stop-color="#05052d"/><stop offset="0.600" stop-color="#000028"/><stop offset="0.700" stop-color="#000028"/><stop offset="0.800" stop-color="#000028"/><stop offset="0.900" stop-color="#000028"/><stop offset="1.000" stop-color="#000028"/></linearGradient>
<linearGradient id="b74" gradientUnits="userSpaceOnUse" x1="20" y1="0" x2="630" y2="0"><stop offset="0.000" stop-color="#232249"/><stop offset="0.100" stop-color="#1d1c43"/><stop offset="0.200" stop-color="#16163d"/><stop offset="0.300" stop-color="#101037"/><stop offset="0.400" stop-color="#0a0a31"/><stop offset="0.500" stop-color="#04042c"/><stop offset="0.600" stop-color="#000028"/><stop offset="0.700" stop-color="#000028"/><stop offset="0.800" stop-color="#000028"/><stop offset="0.900" stop-color="#000028"/><stop offset="1.000" stop-color="#000028"/></linearGradient>
<linearGradient id="b75" gradientUnits="userSpaceOnUse" x1="20" y1="0" x2="630" y2="0"><stop offset="0.000" stop-color="#222148"/><stop offset="0.100" stop-color="#1b1b42"/><stop offset="0.200" stop-color="#15153c"/><stop offset="0.300" stop-color="#0f0f36"/><stop offset="0.400" stop-color="#090830"/><stop offset="0.500" stop-color="#03022a"/><stop offset="0.600" stop-color="#000028"/><stop offset="0.700" stop-color="#000028"/><stop offset="0.800" stop-color="#000028"/><stop offset="0.900" stop-color="#000028"/><stop offset="1.000" stop-color="#000028"/></linearGradient>
<linearGradient id="lbevV" gradientUnits="userSpaceOnUse" x1="0" y1="20" x2="0" y2="619"><stop offset="0" stop-color="#4c4c75"/><stop offset="0.5" stop-color="#494972"/><stop offset="0.85" stop-color="#444470"/><stop offset="1" stop-color="#3e3e6a"/></linearGradient>
<linearGradient id="lbevH" gradientUnits="userSpaceOnUse" x1="27" y1="0" x2="38" y2="0"><stop offset="0" stop-color="#fff" stop-opacity="0.9"/><stop offset="0.55" stop-color="#fff" stop-opacity="0.8"/><stop offset="0.8" stop-color="#fff" stop-opacity="0.3"/><stop offset="1" stop-color="#fff" stop-opacity="0"/></linearGradient>
<mask id="lbevM" maskUnits="userSpaceOnUse" x="0" y="0" width="644" height="644"><rect x="22" y="0" width="20" height="644" fill="url(#lbevH)" transform="matrix(1,0,-0.00584,1,0.117,0)"/></mask>
<linearGradient id="tbev" gradientUnits="userSpaceOnUse" x1="0" y1="20" x2="0" y2="29"><stop offset="0" stop-color="#fff" stop-opacity="0.06"/><stop offset="0.6" stop-color="#fff" stop-opacity="0.035"/><stop offset="1" stop-color="#fff" stop-opacity="0"/></linearGradient>
<linearGradient id="bbev" gradientUnits="userSpaceOnUse" x1="0" y1="608" x2="0" y2="619"><stop offset="0" stop-color="#000018" stop-opacity="0"/><stop offset="1" stop-color="#000018" stop-opacity="0.45"/></linearGradient>
<mask id="tilemask" maskUnits="userSpaceOnUse" x="0" y="0" width="644" height="644"><path fill="#fff" d="M30,20 L621,23 Q624,23 624,26 L622,616 Q622,619 619,619 L26.5,619 Q23.5,619 23.5,616 L27,23 Q27,20 30,20 Z"/></mask>
</defs>
<rect width="644" height="644" fill="#ffffff"/>
<g mask="url(#tilemask)">
<rect x="20" y="16" width="610" height="9" fill="url(#b0)"/>
<rect x="20" y="24" width="610" height="9" fill="url(#b1)"/>
<rect x="20" y="32" width="610" height="9" fill="url(#b2)"/>
<rect x="20" y="40" width="610" height="9" fill="url(#b3)"/>
<rect x="20" y="48" width="610" height="9" fill="url(#b4)"/>
<rect x="20" y="56" width="610" height="9" fill="url(#b5)"/>
<rect x="20" y="64" width="610" height="9" fill="url(#b6)"/>
<rect x="20" y="72" width="610" height="9" fill="url(#b7)"/>
<rect x="20" y="80" width="610" height="9" fill="url(#b8)"/>
<rect x="20" y="88" width="610" height="9" fill="url(#b9)"/>
<rect x="20" y="96" width="610" height="9" fill="url(#b10)"/>
<rect x="20" y="104" width="610" height="9" fill="url(#b11)"/>
<rect x="20" y="112" width="610" height="9" fill="url(#b12)"/>
<rect x="20" y="120" width="610" height="9" fill="url(#b13)"/>
<rect x="20" y="128" width="610" height="9" fill="url(#b14)"/>
<rect x="20" y="136" width="610" height="9" fill="url(#b15)"/>
<rect x="20" y="144" width="610" height="9" fill="url(#b16)"/>
<rect x="20" y="152" width="610" height="9" fill="url(#b17)"/>
<rect x="20" y="160" width="610" height="9" fill="url(#b18)"/>
<rect x="20" y="168" width="610" height="9" fill="url(#b19)"/>
<rect x="20" y="176" width="610" height="9" fill="url(#b20)"/>
<rect x="20" y="184" width="610" height="9" fill="url(#b21)"/>
<rect x="20" y="192" width="610" height="9" fill="url(#b22)"/>
<rect x="20" y="200" width="610" height="9" fill="url(#b23)"/>
<rect x="20" y="208" width="610" height="9" fill="url(#b24)"/>
<rect x="20" y="216" width="610" height="9" fill="url(#b25)"/>
<rect x="20" y="224" width="610" height="9" fill="url(#b26)"/>
<rect x="20" y="232" width="610" height="9" fill="url(#b27)"/>
<rect x="20" y="240" width="610" height="9" fill="url(#b28)"/>
<rect x="20" y="248" width="610" height="9" fill="url(#b29)"/>
<rect x="20" y="256" width="610" height="9" fill="url(#b30)"/>
<rect x="20" y="264" width="610" height="9" fill="url(#b31)"/>
<rect x="20" y="272" width="610" height="9" fill="url(#b32)"/>
<rect x="20" y="280" width="610" height="9" fill="url(#b33)"/>
<rect x="20" y="288" width="610" height="9" fill="url(#b34)"/>
<rect x="20" y="296" width="610" height="9" fill="url(#b35)"/>
<rect x="20" y="304" width="610" height="9" fill="url(#b36)"/>
<rect x="20" y="312" width="610" height="9" fill="url(#b37)"/>
<rect x="20" y="320" width="610" height="9" fill="url(#b38)"/>
<rect x="20" y="328" width="610" height="9" fill="url(#b39)"/>
<rect x="20" y="336" width="610" height="9" fill="url(#b40)"/>
<rect x="20" y="344" width="610" height="9" fill="url(#b41)"/>
<rect x="20" y="352" width="610" height="9" fill="url(#b42)"/>
<rect x="20" y="360" width="610" height="9" fill="url(#b43)"/>
<rect x="20" y="368" width="610" height="9" fill="url(#b44)"/>
<rect x="20" y="376" width="610" height="9" fill="url(#b45)"/>
<rect x="20" y="384" width="610" height="9" fill="url(#b46)"/>
<rect x="20" y="392" width="610" height="9" fill="url(#b47)"/>
<rect x="20" y="400" width="610" height="9" fill="url(#b48)"/>
<rect x="20" y="408" width="610" height="9" fill="url(#b49)"/>
<rect x="20" y="416" width="610" height="9" fill="url(#b50)"/>
<rect x="20" y="424" width="610" height="9" fill="url(#b51)"/>
<rect x="20" y="432" width="610" height="9" fill="url(#b52)"/>
<rect x="20" y="440" width="610" height="9" fill="url(#b53)"/>
<rect x="20" y="448" width="610" height="9" fill="url(#b54)"/>
<rect x="20" y="456" width="610" height="9" fill="url(#b55)"/>
<rect x="20" y="464" width="610" height="9" fill="url(#b56)"/>
<rect x="20" y="472" width="610" height="9" fill="url(#b57)"/>
<rect x="20" y="480" width="610" height="9" fill="url(#b58)"/>
<rect x="20" y="488" width="610" height="9" fill="url(#b59)"/>
<rect x="20" y="496" width="610" height="9" fill="url(#b60)"/>
<rect x="20" y="504" width="610" height="9" fill="url(#b61)"/>
<rect x="20" y="512" width="610" height="9" fill="url(#b62)"/>
<rect x="20" y="520" width="610" height="9" fill="url(#b63)"/>
<rect x="20" y="528" width="610" height="9" fill="url(#b64)"/>
<rect x="20" y="536" width="610" height="9" fill="url(#b65)"/>
<rect x="20" y="544" width="610" height="9" fill="url(#b66)"/>
<rect x="20" y="552" width="610" height="9" fill="url(#b67)"/>
<rect x="20" y="560" width="610" height="9" fill="url(#b68)"/>
<rect x="20" y="568" width="610" height="9" fill="url(#b69)"/>
<rect x="20" y="576" width="610" height="9" fill="url(#b70)"/>
<rect x="20" y="584" width="610" height="9" fill="url(#b71)"/>
<rect x="20" y="592" width="610" height="9" fill="url(#b72)"/>
<rect x="20" y="600" width="610" height="9" fill="url(#b73)"/>
<rect x="20" y="608" width="610" height="9" fill="url(#b74)"/>
<rect x="20" y="616" width="610" height="9" fill="url(#b75)"/>
<rect x="20" y="15" width="24" height="610" fill="url(#lbevV)" mask="url(#lbevM)"/>
<rect x="20" y="15" width="610" height="16" fill="url(#tbev)"/>
<rect x="20" y="606" width="610" height="16" fill="url(#bbev)"/>
</g>

<g stroke="#e0e046" stroke-width="1.2" stroke-linecap="butt">
<line x1="214.5" y1="138.4" x2="271.7" y2="160.0"/>
<line x1="290.5" y1="156.2" x2="337.5" y2="114.5"/>
<line x1="276.6" y1="168.2" x2="240.6" y2="192.3"/>
<line x1="224.5" y1="201.7" x2="205.1" y2="207.9"/>
<line x1="176.8" y1="196.8" x2="191.7" y2="206.7"/>
<line x1="189.7" y1="216.6" x2="174.8" y2="233.5"/>
<line x1="203.9" y1="221.8" x2="237.5" y2="274.6"/>
<line x1="286.6" y1="167.9" x2="358.6" y2="231.1"/>
<line x1="380.2" y1="248.4" x2="438.1" y2="277.0"/>
<line x1="380.2" y1="254.7" x2="420.7" y2="309.3"/>
<line x1="453.8" y1="281.2" x2="466.2" y2="280.7"/>
<line x1="480.9" y1="277.8" x2="504.5" y2="270.3"/>
<line x1="256.0" y1="292.8" x2="290.3" y2="306.0"/>
<line x1="246.6" y1="302.2" x2="249.3" y2="359.4"/>
<line x1="313.2" y1="319.6" x2="384.0" y2="368.6"/>
<line x1="258.5" y1="376.3" x2="358.9" y2="426.4"/>
</g>
<line x1="74.1" y1="298.7" x2="570.8" y2="259.3" stroke="#e6e6f6" stroke-width="1.3"/>
<circle cx="214" cy="306.4" r="3.8" fill="#232c72"/>
<circle cx="214" cy="306.4" r="4.3" fill="none" stroke="#87443e" stroke-width="1.7" stroke-opacity="0.9"/>
<circle cx="214" cy="306.4" r="5.95" fill="none" stroke="#b47e3e" stroke-width="2.0"/>
<circle cx="214" cy="306.4" r="6.0" fill="none" stroke="#c8944a" stroke-width="0.8" stroke-opacity="0.7"/>
<polygon points="207.30,133.80 225.80,132.50 207.30,131.20" fill="#c83450" fill-opacity="0.90"/>
<polygon points="207.30,131.20 188.80,132.50 207.30,133.80" fill="#c83450" fill-opacity="0.90"/>
<polygon points="208.60,132.50 207.30,113.00 206.00,132.50" fill="#c83450" fill-opacity="0.90"/>
<polygon points="206.00,132.50 207.30,155.00 208.60,132.50" fill="#c83450" fill-opacity="0.90"/>
<polygon points="206.38,133.42 223.21,148.41 208.22,131.58" fill="#c83450" fill-opacity="0.90"/>
<polygon points="206.38,131.58 191.39,148.41 208.22,133.42" fill="#c83450" fill-opacity="0.90"/>
<polygon points="208.22,131.58 191.39,116.59 206.38,133.42" fill="#c83450" fill-opacity="0.90"/>
<polygon points="208.22,133.42 223.21,116.59 206.38,131.58" fill="#c83450" fill-opacity="0.90"/>
<polygon points="206.84,133.61 218.39,137.09 207.76,131.39" fill="#e0344a" fill-opacity="0.95"/>
<polygon points="206.19,132.96 211.89,143.59 208.41,132.04" fill="#e0344a" fill-opacity="0.95"/>
<polygon points="206.19,132.04 202.71,143.59 208.41,132.96" fill="#e0344a" fill-opacity="0.95"/>
<polygon points="206.84,131.39 196.21,137.09 207.76,133.61" fill="#e0344a" fill-opacity="0.95"/>
<polygon points="207.76,131.39 196.21,127.91 206.84,133.61" fill="#e0344a" fill-opacity="0.95"/>
<polygon points="208.41,132.04 202.71,121.41 206.19,132.96" fill="#e0344a" fill-opacity="0.95"/>
<polygon points="208.41,132.96 211.89,121.41 206.19,132.04" fill="#e0344a" fill-opacity="0.95"/>
<polygon points="207.76,133.61 218.39,127.91 206.84,131.39" fill="#e0344a" fill-opacity="0.95"/>
<polygon points="215.10,132.50 211.64,133.36 214.51,135.48 210.98,134.96 212.82,138.02 209.76,136.18 210.28,139.71 208.16,136.84 207.30,140.30 206.44,136.84 204.32,139.71 204.84,136.18 201.78,138.02 203.62,134.96 200.09,135.48 202.96,133.36 199.50,132.50 202.96,131.64 200.09,129.52 203.62,130.04 201.78,126.98 204.84,128.82 204.32,125.29 206.44,128.16 207.30,124.70 208.16,128.16 210.28,125.29 209.76,128.82 212.82,126.98 210.98,130.04 214.51,129.52 211.64,131.64" fill="#ff2a2e"/>
<circle cx="207.30" cy="132.50" r="5.20" fill="#ff2a2e"/>
<polygon points="167.30,193.60 183.30,192.30 167.30,191.00" fill="#b87460" fill-opacity="0.60"/>
<polygon points="167.30,191.00 151.30,192.30 167.30,193.60" fill="#b87460" fill-opacity="0.60"/>
<polygon points="168.60,192.30 167.30,172.30 166.00,192.30" fill="#b87460" fill-opacity="0.60"/>
<polygon points="166.00,192.30 167.30,212.30 168.60,192.30" fill="#b87460" fill-opacity="0.60"/>
<polygon points="166.38,193.22 189.22,214.22 168.22,191.38" fill="#e8902f" fill-opacity="0.60"/>
<polygon points="166.38,191.38 145.38,214.22 168.22,193.22" fill="#e8902f" fill-opacity="0.60"/>
<polygon points="168.22,191.38 145.38,170.38 166.38,193.22" fill="#e8902f" fill-opacity="0.60"/>
<polygon points="168.22,193.22 189.22,170.38 166.38,191.38" fill="#e8902f" fill-opacity="0.60"/>
<polygon points="166.03,193.57 189.22,214.22 168.57,191.03" fill="#ea922f" fill-opacity="1.00"/>
<polygon points="166.03,191.03 145.38,214.22 168.57,193.57" fill="#ea922f" fill-opacity="1.00"/>
<polygon points="168.57,191.03 145.38,170.38 166.03,193.57" fill="#ea922f" fill-opacity="1.00"/>
<polygon points="168.57,193.57 189.22,170.38 166.03,191.03" fill="#ea922f" fill-opacity="1.00"/>
<polygon points="177.06,192.30 174.00,193.48 176.47,195.64 173.19,195.70 174.78,198.57 171.67,197.51 172.18,200.75 169.63,198.69 168.99,201.91 167.30,199.10 165.61,201.91 164.97,198.69 162.42,200.75 162.93,197.51 159.82,198.57 161.41,195.70 158.13,195.64 160.60,193.48 157.54,192.30 160.60,191.12 158.13,188.96 161.41,188.90 159.82,186.03 162.93,187.09 162.42,183.85 164.97,185.91 165.61,182.69 167.30,185.50 168.99,182.69 169.63,185.91 172.18,183.85 171.67,187.09 174.78,186.03 173.19,188.90 176.47,188.96 174.00,191.12" fill="#f09a32"/>
<circle cx="167.30" cy="192.30" r="8.00" fill="#f09a32"/>
<polygon points="196.80,210.90 204.80,210.00 196.80,209.10" fill="#e03048" fill-opacity="0.95"/>
<polygon points="196.80,209.10 188.80,210.00 196.80,210.90" fill="#e03048" fill-opacity="0.95"/>
<polygon points="197.70,210.00 196.80,202.00 195.90,210.00" fill="#e03048" fill-opacity="0.95"/>
<polygon points="195.90,210.00 196.80,218.00 197.70,210.00" fill="#e03048" fill-opacity="0.95"/>
<polygon points="196.16,210.64 202.46,215.66 197.44,209.36" fill="#e03048" fill-opacity="0.95"/>
<polygon points="196.16,209.36 191.14,215.66 197.44,210.64" fill="#e03048" fill-opacity="0.95"/>
<polygon points="197.44,209.36 191.14,204.34 196.16,210.64" fill="#e03048" fill-opacity="0.95"/>
<polygon points="197.44,210.64 202.46,204.34 196.16,209.36" fill="#e03048" fill-opacity="0.95"/>
<polygon points="196.51,210.69 201.42,211.91 197.09,209.31" fill="#e03048" fill-opacity="0.90"/>
<polygon points="196.11,210.29 198.71,214.62 197.49,209.71" fill="#e03048" fill-opacity="0.90"/>
<polygon points="196.11,209.71 194.89,214.62 197.49,210.29" fill="#e03048" fill-opacity="0.90"/>
<polygon points="196.51,209.31 192.18,211.91 197.09,210.69" fill="#e03048" fill-opacity="0.90"/>
<polygon points="197.09,209.31 192.18,208.09 196.51,210.69" fill="#e03048" fill-opacity="0.90"/>
<polygon points="197.49,209.71 194.89,205.38 196.11,210.29" fill="#e03048" fill-opacity="0.90"/>
<polygon points="197.49,210.29 198.71,205.38 196.11,209.71" fill="#e03048" fill-opacity="0.90"/>
<polygon points="197.09,210.69 201.42,208.09 196.51,209.31" fill="#e03048" fill-opacity="0.90"/>
<circle cx="196.80" cy="210.00" r="2.60" fill="#ff3434"/>
<polygon points="282.00,164.30 291.50,163.50 282.00,162.70" fill="#e8a890" fill-opacity="0.90"/>
<polygon points="282.00,162.70 272.50,163.50 282.00,164.30" fill="#e8a890" fill-opacity="0.90"/>
<polygon points="282.80,163.50 282.00,152.00 281.20,163.50" fill="#e8a890" fill-opacity="0.90"/>
<polygon points="281.20,163.50 282.00,175.00 282.80,163.50" fill="#e8a890" fill-opacity="0.90"/>
<polygon points="281.43,164.07 287.30,168.80 282.57,162.93" fill="#e8a890" fill-opacity="0.90"/>
<polygon points="281.43,162.93 276.70,168.80 282.57,164.07" fill="#e8a890" fill-opacity="0.90"/>
<polygon points="282.57,162.93 276.70,158.20 281.43,164.07" fill="#e8a890" fill-opacity="0.90"/>
<polygon points="282.57,164.07 287.30,158.20 281.43,162.93" fill="#e8a890" fill-opacity="0.90"/>
<circle cx="282.00" cy="163.50" r="2.00" fill="#ffc27a"/>
<polygon points="341.70,110.40 350.32,116.62 344.10,108.00" fill="#58d020" fill-opacity="1.00"/>
<polygon points="341.70,108.00 335.48,116.62 344.10,110.40" fill="#58d020" fill-opacity="1.00"/>
<polygon points="344.10,108.00 335.48,101.78 341.70,110.40" fill="#58d020" fill-opacity="1.00"/>
<polygon points="344.10,110.40 350.32,101.78 341.70,108.00" fill="#58d020" fill-opacity="1.00"/>
<polygon points="342.90,110.30 348.90,109.20 342.90,108.10" fill="#46b020" fill-opacity="0.80"/>
<polygon points="341.80,109.20 342.90,115.20 344.00,109.20" fill="#46b020" fill-opacity="0.80"/>
<polygon points="342.90,108.10 336.90,109.20 342.90,110.30" fill="#46b020" fill-opacity="0.80"/>
<polygon points="344.00,109.20 342.90,103.20 341.80,109.20" fill="#46b020" fill-opacity="0.80"/>
<circle cx="342.90" cy="109.20" r="3.00" fill="#86ff30"/>
<polygon points="163.92,247.48 173.99,255.79 165.68,245.72" fill="#e6d832" fill-opacity="1.00"/>
<polygon points="163.92,245.72 155.61,255.79 165.68,247.48" fill="#e6d832" fill-opacity="1.00"/>
<polygon points="165.68,245.72 155.61,237.41 163.92,247.48" fill="#e6d832" fill-opacity="1.00"/>
<polygon points="165.68,247.48 173.99,237.41 163.92,245.72" fill="#e6d832" fill-opacity="1.00"/>
<polygon points="164.80,247.80 171.80,246.60 164.80,245.40" fill="#20b0c8" fill-opacity="0.90"/>
<polygon points="164.80,245.40 157.80,246.60 164.80,247.80" fill="#20b0c8" fill-opacity="0.90"/>
<polygon points="163.80,246.60 164.80,251.60 165.80,246.60" fill="#20b0a0" fill-opacity="0.80"/>
<polygon points="165.80,246.60 164.80,241.60 163.80,246.60" fill="#20b0a0" fill-opacity="0.80"/>
<circle cx="164.80" cy="246.60" r="2.60" fill="#6cf658"/>
<polygon points="245.89,289.21 259.68,301.58 247.31,287.79" fill="#38a0d0" fill-opacity="0.95"/>
<polygon points="245.89,287.79 233.52,301.58 247.31,289.21" fill="#38a0d0" fill-opacity="0.95"/>
<polygon points="247.31,287.79 233.52,275.42 245.89,289.21" fill="#38a0d0" fill-opacity="0.95"/>
<polygon points="247.31,289.21 259.68,275.42 245.89,287.79" fill="#38a0d0" fill-opacity="0.95"/>
<polygon points="246.60,289.80 254.10,288.50 246.60,287.20" fill="#22e0ec" fill-opacity="1.00"/>
<polygon points="245.30,288.50 246.60,296.00 247.90,288.50" fill="#22e0ec" fill-opacity="1.00"/>
<polygon points="246.60,287.20 239.10,288.50 246.60,289.80" fill="#22e0ec" fill-opacity="1.00"/>
<polygon points="247.90,288.50 246.60,281.00 245.30,288.50" fill="#22e0ec" fill-opacity="1.00"/>
<polygon points="246.18,289.52 252.61,290.99 247.02,287.48" fill="#22e0ec" fill-opacity="1.00"/>
<polygon points="245.58,288.92 249.09,294.51 247.62,288.08" fill="#22e0ec" fill-opacity="1.00"/>
<polygon points="245.58,288.08 244.11,294.51 247.62,288.92" fill="#22e0ec" fill-opacity="1.00"/>
<polygon points="246.18,287.48 240.59,290.99 247.02,289.52" fill="#22e0ec" fill-opacity="1.00"/>
<polygon points="247.02,287.48 240.59,286.01 246.18,289.52" fill="#22e0ec" fill-opacity="1.00"/>
<polygon points="247.62,288.08 244.11,282.49 245.58,288.92" fill="#22e0ec" fill-opacity="1.00"/>
<polygon points="247.62,288.92 249.09,282.49 245.58,288.08" fill="#22e0ec" fill-opacity="1.00"/>
<polygon points="247.02,289.52 252.61,286.01 246.18,287.48" fill="#22e0ec" fill-opacity="1.00"/>
<circle cx="246.60" cy="288.50" r="4.20" fill="#22e6f0"/>
<polygon points="301.60,313.60 316.60,312.30 301.60,311.00" fill="#ecdc20" fill-opacity="0.97"/>
<polygon points="301.60,311.00 286.60,312.30 301.60,313.60" fill="#ecdc20" fill-opacity="0.97"/>
<polygon points="302.90,312.30 301.60,295.80 300.30,312.30" fill="#f4eca0" fill-opacity="0.97"/>
<polygon points="300.30,312.30 301.60,328.80 302.90,312.30" fill="#f4eca0" fill-opacity="0.97"/>
<polygon points="300.68,313.22 311.85,322.55 302.52,311.38" fill="#ecdc20" fill-opacity="0.97"/>
<polygon points="300.68,311.38 291.35,322.55 302.52,313.22" fill="#ecdc20" fill-opacity="0.97"/>
<polygon points="302.52,311.38 291.35,302.05 300.68,313.22" fill="#ecdc20" fill-opacity="0.97"/>
<polygon points="302.52,313.22 311.85,302.05 300.68,311.38" fill="#ecdc20" fill-opacity="0.97"/>
<circle cx="301.60" cy="312.30" r="3.00" fill="#fff222"/>
<polygon points="249.80,373.35 263.80,372.60 249.80,371.85" fill="#b4b4e4" fill-opacity="0.85"/>
<polygon points="249.80,371.85 235.80,372.60 249.80,373.35" fill="#b4b4e4" fill-opacity="0.85"/>
<polygon points="250.55,372.60 249.80,359.60 249.05,372.60" fill="#b4b4e4" fill-opacity="0.85"/>
<polygon points="249.05,372.60 249.80,385.60 250.55,372.60" fill="#b4b4e4" fill-opacity="0.85"/>
<polygon points="249.27,373.13 259.70,382.50 250.33,372.07" fill="#b4b4e4" fill-opacity="0.85"/>
<polygon points="249.27,372.07 239.90,382.50 250.33,373.13" fill="#b4b4e4" fill-opacity="0.85"/>
<polygon points="250.33,372.07 239.90,362.70 249.27,373.13" fill="#b4b4e4" fill-opacity="0.85"/>
<polygon points="250.33,373.13 259.70,362.70 249.27,372.07" fill="#b4b4e4" fill-opacity="0.85"/>
<circle cx="249.80" cy="372.60" r="2.00" fill="#ffffff"/>
<polygon points="372.30,244.30 386.80,243.30 372.30,242.30" fill="#3c98e4" fill-opacity="0.95"/>
<polygon points="372.30,242.30 357.80,243.30 372.30,244.30" fill="#3c98e4" fill-opacity="0.95"/>
<polygon points="373.30,243.30 372.30,226.30 371.30,243.30" fill="#3c98e4" fill-opacity="0.95"/>
<polygon points="371.30,243.30 372.30,260.30 373.30,243.30" fill="#3c98e4" fill-opacity="0.95"/>
<polygon points="371.59,244.01 382.20,253.20 373.01,242.59" fill="#3c98e4" fill-opacity="0.95"/>
<polygon points="371.59,242.59 362.40,253.20 373.01,244.01" fill="#3c98e4" fill-opacity="0.95"/>
<polygon points="373.01,242.59 362.40,233.40 371.59,244.01" fill="#3c98e4" fill-opacity="0.95"/>
<polygon points="373.01,244.01 382.20,233.40 371.59,242.59" fill="#3c98e4" fill-opacity="0.95"/>
<polygon points="371.96,244.13 380.15,246.55 372.64,242.47" fill="#3c98e4" fill-opacity="0.90"/>
<polygon points="371.47,243.64 375.55,251.15 373.13,242.96" fill="#3c98e4" fill-opacity="0.90"/>
<polygon points="371.47,242.96 369.05,251.15 373.13,243.64" fill="#3c98e4" fill-opacity="0.90"/>
<polygon points="371.96,242.47 364.45,246.55 372.64,244.13" fill="#3c98e4" fill-opacity="0.90"/>
<polygon points="372.64,242.47 364.45,240.05 371.96,244.13" fill="#3c98e4" fill-opacity="0.90"/>
<polygon points="373.13,242.96 369.05,235.45 371.47,243.64" fill="#3c98e4" fill-opacity="0.90"/>
<polygon points="373.13,243.64 375.55,235.45 371.47,242.96" fill="#3c98e4" fill-opacity="0.90"/>
<polygon points="372.64,244.13 380.15,240.05 371.96,242.47" fill="#3c98e4" fill-opacity="0.90"/>
<polygon points="378.02,243.30 375.97,244.03 377.58,245.49 375.41,245.38 376.34,247.34 374.38,246.41 374.49,248.58 373.03,246.97 372.30,249.02 371.57,246.97 370.11,248.58 370.22,246.41 368.26,247.34 369.19,245.38 367.02,245.49 368.63,244.03 366.58,243.30 368.63,242.57 367.02,241.11 369.19,241.22 368.26,239.26 370.22,240.19 370.11,238.02 371.57,239.63 372.30,237.58 373.03,239.63 374.49,238.02 374.38,240.19 376.34,239.26 375.41,241.22 377.58,241.11 375.97,242.57" fill="#34acf2"/>
<circle cx="372.30" cy="243.30" r="4.40" fill="#34acf2"/>
<polygon points="444.73,282.87 456.96,292.56 447.27,280.33" fill="#dc2428" fill-opacity="1.00"/>
<polygon points="444.73,280.33 435.04,292.56 447.27,282.87" fill="#dc2428" fill-opacity="1.00"/>
<polygon points="447.27,280.33 435.04,270.64 444.73,282.87" fill="#dc2428" fill-opacity="1.00"/>
<polygon points="447.27,282.87 456.96,270.64 444.73,280.33" fill="#dc2428" fill-opacity="1.00"/>
<circle cx="446.00" cy="281.60" r="3.00" fill="#ee2626"/>
<polygon points="471.62,281.88 480.17,287.47 474.58,278.92" fill="#dc2428" fill-opacity="1.00"/>
<polygon points="471.62,278.92 466.03,287.47 474.58,281.88" fill="#dc2428" fill-opacity="1.00"/>
<polygon points="474.58,278.92 466.03,273.33 471.62,281.88" fill="#dc2428" fill-opacity="1.00"/>
<polygon points="474.58,281.88 480.17,273.33 471.62,278.92" fill="#dc2428" fill-opacity="1.00"/>
<circle cx="473.10" cy="280.40" r="2.90" fill="#ee2626"/>
<polygon points="424.90,317.90 433.90,317.00 424.90,316.10" fill="#22c0d8" fill-opacity="0.95"/>
<polygon points="424.90,316.10 415.90,317.00 424.90,317.90" fill="#22c0d8" fill-opacity="0.95"/>
<polygon points="425.80,317.00 424.90,307.00 424.00,317.00" fill="#22c0d8" fill-opacity="0.95"/>
<polygon points="424.00,317.00 424.90,327.00 425.80,317.00" fill="#22c0d8" fill-opacity="0.95"/>
<polygon points="424.26,317.64 430.91,323.01 425.54,316.36" fill="#22c0d8" fill-opacity="0.95"/>
<polygon points="424.26,316.36 418.89,323.01 425.54,317.64" fill="#22c0d8" fill-opacity="0.95"/>
<polygon points="425.54,316.36 418.89,310.99 424.26,317.64" fill="#22c0d8" fill-opacity="0.95"/>
<polygon points="425.54,317.64 430.91,310.99 424.26,316.36" fill="#22c0d8" fill-opacity="0.95"/>
<polygon points="424.59,317.74 430.91,319.49 425.21,316.26" fill="#22c0d8" fill-opacity="0.90"/>
<polygon points="424.16,317.31 427.39,323.01 425.64,316.69" fill="#22c0d8" fill-opacity="0.90"/>
<polygon points="424.16,316.69 422.41,323.01 425.64,317.31" fill="#22c0d8" fill-opacity="0.90"/>
<polygon points="424.59,316.26 418.89,319.49 425.21,317.74" fill="#22c0d8" fill-opacity="0.90"/>
<polygon points="425.21,316.26 418.89,314.51 424.59,317.74" fill="#22c0d8" fill-opacity="0.90"/>
<polygon points="425.64,316.69 422.41,310.99 424.16,317.31" fill="#22c0d8" fill-opacity="0.90"/>
<polygon points="425.64,317.31 427.39,310.99 424.16,316.69" fill="#22c0d8" fill-opacity="0.90"/>
<polygon points="425.21,317.74 430.91,314.51 424.59,316.26" fill="#22c0d8" fill-opacity="0.90"/>
<circle cx="424.90" cy="317.00" r="3.30" fill="#24dcea"/>
<polygon points="510.20,268.10 518.70,267.20 510.20,266.30" fill="#e0d820" fill-opacity="0.95"/>
<polygon points="510.20,266.30 501.70,267.20 510.20,268.10" fill="#e0d820" fill-opacity="0.95"/>
<polygon points="511.10,267.20 510.20,259.20 509.30,267.20" fill="#e0d820" fill-opacity="0.95"/>
<polygon points="509.30,267.20 510.20,275.20 511.10,267.20" fill="#e0d820" fill-opacity="0.95"/>
<polygon points="509.56,267.84 515.86,272.86 510.84,266.56" fill="#e0d820" fill-opacity="0.95"/>
<polygon points="509.56,266.56 504.54,272.86 510.84,267.84" fill="#e0d820" fill-opacity="0.95"/>
<polygon points="510.84,266.56 504.54,261.54 509.56,267.84" fill="#e0d820" fill-opacity="0.95"/>
<polygon points="510.84,267.84 515.86,261.54 509.56,266.56" fill="#e0d820" fill-opacity="0.95"/>
<polygon points="509.89,267.94 516.21,269.69 510.51,266.46" fill="#e0d820" fill-opacity="0.90"/>
<polygon points="509.46,267.51 512.69,273.21 510.94,266.89" fill="#e0d820" fill-opacity="0.90"/>
<polygon points="509.46,266.89 507.71,273.21 510.94,267.51" fill="#e0d820" fill-opacity="0.90"/>
<polygon points="509.89,266.46 504.19,269.69 510.51,267.94" fill="#e0d820" fill-opacity="0.90"/>
<polygon points="510.51,266.46 504.19,264.71 509.89,267.94" fill="#e0d820" fill-opacity="0.90"/>
<polygon points="510.94,266.89 507.71,261.19 509.46,267.51" fill="#e0d820" fill-opacity="0.90"/>
<polygon points="510.94,267.51 512.69,261.19 509.46,266.89" fill="#e0d820" fill-opacity="0.90"/>
<polygon points="510.51,267.94 516.21,264.71 509.89,266.46" fill="#e0d820" fill-opacity="0.90"/>
<circle cx="510.20" cy="267.20" r="3.30" fill="#f2f224"/>
<polygon points="394.64,378.06 415.50,396.80 396.76,375.94" fill="#3c94dc" fill-opacity="0.95"/>
<polygon points="394.64,375.94 375.90,396.80 396.76,378.06" fill="#3c94dc" fill-opacity="0.95"/>
<polygon points="396.76,375.94 375.90,357.20 394.64,378.06" fill="#3c94dc" fill-opacity="0.95"/>
<polygon points="396.76,378.06 415.50,357.20 394.64,375.94" fill="#3c94dc" fill-opacity="0.95"/>
<polygon points="395.70,378.20 407.20,377.00 395.70,375.80" fill="#48b0ea" fill-opacity="0.95"/>
<polygon points="395.70,375.80 384.20,377.00 395.70,378.20" fill="#48b0ea" fill-opacity="0.95"/>
<polygon points="394.70,377.00 395.70,389.50 396.70,377.00" fill="#bcdcf4" fill-opacity="0.95"/>
<polygon points="396.70,377.00 395.70,364.50 394.70,377.00" fill="#bcdcf4" fill-opacity="0.95"/>
<polygon points="401.82,377.00 399.95,377.85 401.35,379.34 399.30,379.41 400.03,381.33 398.11,380.60 398.04,382.65 396.55,381.25 395.70,383.12 394.85,381.25 393.36,382.65 393.29,380.60 391.37,381.33 392.10,379.41 390.05,379.34 391.45,377.85 389.58,377.00 391.45,376.15 390.05,374.66 392.10,374.59 391.37,372.67 393.29,373.40 393.36,371.35 394.85,372.75 395.70,370.88 396.55,372.75 398.04,371.35 398.11,373.40 400.03,372.67 399.30,374.59 401.35,374.66 399.95,376.15" fill="#3ab2f2"/>
<circle cx="395.70" cy="377.00" r="5.10" fill="#3ab2f2"/>
<polygon points="368.50,430.10 381.00,429.10 368.50,428.10" fill="#22c4d4" fill-opacity="0.95"/>
<polygon points="368.50,428.10 356.00,429.10 368.50,430.10" fill="#22c4d4" fill-opacity="0.95"/>
<polygon points="367.60,429.10 368.50,437.60 369.40,429.10" fill="#22c4d4" fill-opacity="0.90"/>
<polygon points="369.40,429.10 368.50,420.60 367.60,429.10" fill="#22c4d4" fill-opacity="0.90"/>
<polygon points="368.21,429.79 374.04,431.40 368.79,428.41" fill="#22c4d4" fill-opacity="0.90"/>
<polygon points="367.81,429.39 370.80,434.64 369.19,428.81" fill="#22c4d4" fill-opacity="0.90"/>
<polygon points="367.81,428.81 366.20,434.64 369.19,429.39" fill="#22c4d4" fill-opacity="0.90"/>
<polygon points="368.21,428.41 362.96,431.40 368.79,429.79" fill="#22c4d4" fill-opacity="0.90"/>
<polygon points="368.79,428.41 362.96,426.80 368.21,429.79" fill="#22c4d4" fill-opacity="0.90"/>
<polygon points="369.19,428.81 366.20,423.56 367.81,429.39" fill="#22c4d4" fill-opacity="0.90"/>
<polygon points="369.19,429.39 370.80,423.56 367.81,428.81" fill="#22c4d4" fill-opacity="0.90"/>
<polygon points="368.79,429.79 374.04,426.80 368.21,428.41" fill="#22c4d4" fill-opacity="0.90"/>
<circle cx="368.50" cy="429.10" r="3.30" fill="#24dce4"/>
<polygon points="367.79,429.81 376.99,437.59 369.21,428.39" fill="#f4ecf0" fill-opacity="0.95"/>
<polygon points="367.79,428.39 360.01,437.59 369.21,429.81" fill="#f4ecf0" fill-opacity="0.95"/>
<polygon points="369.21,428.39 360.01,420.61 367.79,429.81" fill="#f4ecf0" fill-opacity="0.95"/>
<polygon points="369.21,429.81 376.99,420.61 367.79,428.39" fill="#f4ecf0" fill-opacity="0.95"/><circle cx="368.5" cy="429.1" r="1.3" fill="#ffffff" fill-opacity="0.9"/>
<polygon points="232.96,198.44 240.21,204.63 234.02,197.38" fill="#e6e236" fill-opacity="0.95"/>
<polygon points="234.02,197.38 226.77,191.19 232.96,198.44" fill="#e6e236" fill-opacity="0.95"/>
<polygon points="230.98,200.42 238.23,206.61 232.04,199.36" fill="#e6e236" fill-opacity="0.95"/>
<polygon points="232.04,199.36 224.79,193.17 230.98,200.42" fill="#e6e236" fill-opacity="0.95"/>
<polygon points="232.96,199.36 226.77,206.61 234.02,200.42" fill="#e6e236" fill-opacity="0.95"/>
<polygon points="234.02,200.42 240.21,193.17 232.96,199.36" fill="#e6e236" fill-opacity="0.95"/>
<polygon points="230.98,197.38 224.79,204.63 232.04,198.44" fill="#e6e236" fill-opacity="0.95"/>
<polygon points="232.04,198.44 238.23,191.19 230.98,197.38" fill="#e6e236" fill-opacity="0.95"/>
<circle cx="232.50" cy="198.90" r="1.5" fill="#f4f030"/>
<line x1="491.36" y1="233.91" x2="499.24" y2="235.29" stroke="#d0c82c" stroke-width="0.75"/>
<line x1="495.99" y1="230.66" x2="494.61" y2="238.54" stroke="#d0c82c" stroke-width="0.75"/>
<line x1="488.70" y1="238.25" x2="491.30" y2="242.75" stroke="#d0c82c" stroke-width="0.75"/>
<line x1="492.25" y1="239.20" x2="487.75" y2="241.80" stroke="#d0c82c" stroke-width="0.75"/>
<line x1="479.54" y1="243.68" x2="484.46" y2="247.12" stroke="#d0c82c" stroke-width="0.75"/>
<line x1="483.72" y1="242.94" x2="480.28" y2="247.86" stroke="#d0c82c" stroke-width="0.75"/>
<line x1="494.16" y1="242.36" x2="497.24" y2="246.04" stroke="#d0c82c" stroke-width="0.75"/>
<line x1="497.54" y1="242.66" x2="493.86" y2="245.74" stroke="#d0c82c" stroke-width="0.75"/>
<line x1="500.32" y1="241.56" x2="506.48" y2="244.44" stroke="#d0c82c" stroke-width="0.75"/>
<line x1="504.84" y1="239.92" x2="501.96" y2="246.08" stroke="#d0c82c" stroke-width="0.75"/>
<line x1="488.46" y1="250.34" x2="495.94" y2="251.66" stroke="#d0c82c" stroke-width="0.75"/>
<line x1="492.86" y1="247.26" x2="491.54" y2="254.74" stroke="#d0c82c" stroke-width="0.75"/>
<circle cx="487.3" cy="256.6" r="0.8" fill="#c8c030"/>
<circle cx="497.0" cy="254.5" r="0.8" fill="#c8c030"/>
<circle cx="491.6" cy="230.5" r="0.8" fill="#c8c030"/>
<circle cx="501.6" cy="230.5" r="0.8" fill="#c8c030"/>
<circle cx="486.6" cy="246.0" r="0.8" fill="#c8c030"/>
<circle cx="499.0" cy="241.0" r="0.8" fill="#c8c030"/>
<path d="M219.9,494.2 C215.5,486.6 208,482.3 199,482.3 C186,482.3 176.9,494 176.9,511 C176.9,528 186,539.5 199,539.5 C212,539.5 221.2,530.5 221.2,519.5 L221.2,513.4 L204.4,513.4" stroke="#f3f1ea" stroke-width="3.9" fill="none" stroke-linecap="round" stroke-linejoin="round"/>
<polygon points="222.37,486.59 222.68,492.18 227.90,494.20 222.68,496.22 222.37,501.81 218.84,497.47 213.43,498.90 216.46,494.20 213.43,489.50 218.84,490.93" fill="#f3f1ea"/>
<polygon points="202.63,504.89 205.89,509.86 211.76,508.95 208.03,513.58 210.72,518.89 205.16,516.78 200.94,520.97 201.23,515.03 195.95,512.31 201.68,510.75" fill="#f3f1ea"/>
<path d="M277.6,484.1 L242.9,484.1 L242.9,537.0 L278,537.0 M242.9,509.2 L274.3,509.2" stroke="#f3f1ea" stroke-width="3.9" fill="none" stroke-linecap="round" stroke-linejoin="round"/>
<polygon points="279.37,475.79 280.32,481.65 286.05,483.21 280.77,485.93 281.06,491.87 276.84,487.68 271.28,489.79 273.97,484.48 270.24,479.85 276.11,480.76" fill="#f3f1ea"/>
<polygon points="276.45,503.28 276.55,507.69 280.60,509.42 276.43,510.87 276.04,515.26 273.37,511.75 269.08,512.72 271.59,509.11 269.34,505.32 273.55,506.60" fill="#f3f1ea"/>
<polygon points="277.32,529.03 279.73,533.93 285.18,533.75 281.27,537.55 283.12,542.69 278.29,540.14 273.98,543.49 274.91,538.11 270.40,535.05 275.80,534.27" fill="#f3f1ea"/>
<path d="M297.1,537.0 L302.1,485.2 L324.5,531.0 L345.4,485.8 L354.3,539.0" stroke="#f3f1ea" stroke-width="3.9" fill="none" stroke-linecap="round" stroke-linejoin="round"/>
<polygon points="298.49,529.12 299.57,534.61 305.02,535.89 300.14,538.61 300.61,544.19 296.50,540.39 291.35,542.56 293.69,537.48 290.04,533.24 295.59,533.91" fill="#f3f1ea"/>
<polygon points="301.40,476.93 303.87,481.95 309.46,481.77 305.45,485.67 307.35,490.94 302.40,488.33 297.98,491.76 298.93,486.24 294.31,483.10 299.84,482.30" fill="#f3f1ea"/>
<polygon points="326.31,524.34 326.84,529.21 331.49,530.73 327.02,532.74 327.01,537.64 323.72,534.01 319.06,535.51 321.49,531.26 318.63,527.29 323.42,528.29" fill="#f3f1ea"/>
<polygon points="346.10,477.83 347.66,483.20 353.19,484.00 348.57,487.14 349.52,492.66 345.10,489.23 340.15,491.84 342.05,486.57 338.04,482.67 343.63,482.85" fill="#f3f1ea"/>
<polygon points="357.14,531.50 357.26,537.30 362.59,539.59 357.11,541.50 356.59,547.28 353.08,542.65 347.42,543.94 350.73,539.18 347.76,534.19 353.32,535.87" fill="#f3f1ea"/>
<path d="M377.7,484.6 L377.5,536.7" stroke="#f3f1ea" stroke-width="3.9" fill="none" stroke-linecap="round" stroke-linejoin="round"/>
<polygon points="378.40,476.53 379.96,481.90 385.49,482.70 380.87,485.84 381.82,491.36 377.40,487.93 372.45,490.54 374.35,485.27 370.34,481.37 375.93,481.55" fill="#f3f1ea"/>
<polygon points="376.11,528.82 379.01,533.61 384.56,532.94 380.91,537.18 383.25,542.26 378.10,540.09 373.99,543.89 374.46,538.31 369.58,535.59 375.03,534.31" fill="#f3f1ea"/>
<path d="M397.9,536.6 L398.3,484.8 L435.8,534.2 M437.7,533.5 L439.2,488" stroke="#f3f1ea" stroke-width="3.9" fill="none" stroke-linecap="round" stroke-linejoin="round"/>
<polygon points="399.29,528.72 400.37,534.21 405.82,535.49 400.94,538.21 401.41,543.79 397.30,539.99 392.15,542.16 394.49,537.08 390.84,532.84 396.39,533.51" fill="#f3f1ea"/>
<polygon points="395.74,475.72 399.66,481.09 406.17,479.73 402.28,485.11 405.58,490.88 399.26,488.85 394.80,493.77 394.77,487.12 388.71,484.40 395.03,482.33" fill="#f3f1ea"/>
<polygon points="437.70,525.55 439.03,532.27 445.70,533.84 439.72,537.18 440.30,544.01 435.27,539.35 428.95,542.01 431.83,535.79 427.35,530.60 434.15,531.41" fill="#f3f1ea"/>
<polygon points="439.20,480.00 441.22,485.22 446.81,485.53 442.47,489.06 443.90,494.47 439.20,491.44 434.50,494.47 435.93,489.06 431.59,485.53 437.18,485.22" fill="#f3f1ea"/>
<path d="M462.6,484.6 L461.8,536.6" stroke="#f3f1ea" stroke-width="3.9" fill="none" stroke-linecap="round" stroke-linejoin="round"/>
<polygon points="461.21,476.72 464.11,481.51 469.66,480.84 466.01,485.08 468.35,490.16 463.20,487.99 459.09,491.79 459.56,486.21 454.68,483.49 460.13,482.21" fill="#f3f1ea"/>
<polygon points="462.50,528.63 464.06,534.00 469.59,534.80 464.97,537.94 465.92,543.46 461.50,540.03 456.55,542.64 458.45,537.37 454.44,533.47 460.03,533.65" fill="#f3f1ea"/>
<mask id="thinmask" maskUnits="userSpaceOnUse" x="0" y="0" width="644" height="644"><g fill="#fff" stroke="#000" stroke-width="0.47">
<text x="391.2" y="103.8" font-size="17">-</text>
<text x="402.5" y="103.8" font-size="17" textLength="77.5" lengthAdjust="spacingAndGlyphs">Mekbuda</text>
<text x="393.4" y="123.5" font-size="17">-</text>
<text x="404.6" y="123.5" font-size="17" textLength="91.9" lengthAdjust="spacingAndGlyphs">Tejat Prior</text>
<text x="387.6" y="143.6" font-size="17">-</text>
<text x="399.8" y="143.6" font-size="17" textLength="57.7" lengthAdjust="spacingAndGlyphs">Propus</text>
<text x="393.0" y="163.6" font-size="17">-</text>
<text x="404.6" y="163.6" font-size="17" textLength="87.0" lengthAdjust="spacingAndGlyphs">Tejat Post</text>
<text x="391.2" y="183.6" font-size="17">-</text>
<text x="402.0" y="183.6" font-size="17" textLength="46.3" lengthAdjust="spacingAndGlyphs">Alzirr</text>
<text x="139.8" y="371.7" font-size="17">-</text>
<text x="151.0" y="371.7" font-size="17.5" textLength="58.6" lengthAdjust="spacingAndGlyphs">Castor</text>
<text x="139.8" y="391.7" font-size="17">-</text>
<text x="152.0" y="391.7" font-size="17.5" textLength="51.0" lengthAdjust="spacingAndGlyphs">Pollux</text>
<text x="139.8" y="411.6" font-size="17">-</text>
<text x="149.5" y="411.6" font-size="17.5" textLength="58.0" lengthAdjust="spacingAndGlyphs">Alhena</text>
<text x="139.8" y="431.6" font-size="17">-</text>
<text x="150.5" y="431.6" font-size="17.5" textLength="54.5" lengthAdjust="spacingAndGlyphs">Wasat</text>
<text x="138.3" y="451.6" font-size="17">-</text>
<text x="149.0" y="451.6" font-size="17.5" textLength="73.0" lengthAdjust="spacingAndGlyphs">Mebsuta</text>
</g><g fill="#fff" stroke="#000" stroke-width="0.45">
<text transform="translate(112.5,290.8) rotate(-4.5)" font-size="17" textLength="71" lengthAdjust="spacingAndGlyphs">ECLIPTIC</text>
</g><g fill="#fff" stroke="#000" stroke-width="0.12">
<text class="mono" font-size="15.4" x="178.2" y="313.7" textLength="24.6" lengthAdjust="spacingAndGlyphs">NGC</text>
<text class="mono" font-size="15.4" x="178.2" y="328.0" textLength="32.4" lengthAdjust="spacingAndGlyphs">2392</text>
<text class="mono" font-size="15.2" x="454.7" y="238.0" textLength="24" lengthAdjust="spacingAndGlyphs">M35</text>
</g><g fill="#fff" stroke="#000" stroke-width="0.3">
<text x="378" y="103.8" font-size="16.5">ζ</text>
<text x="378" y="123.5" font-size="16.5">η</text>
<text x="378" y="143.6" font-size="16.5">ι</text>
<text x="378" y="163.6" font-size="16.5">μ</text>
<text x="378" y="183.6" font-size="16.5">ξ</text>
<text x="124.5" y="371.7" font-size="17">α</text>
<text x="124.5" y="391.7" font-size="17">β</text>
<text x="124.5" y="411.6" font-size="17">γ</text>
<text x="124.5" y="431.6" font-size="17">δ</text>
<text x="124.5" y="451.6" font-size="17">ε</text>
<text x="228.0" y="128.0" font-size="20">α</text>
<text x="138.2" y="198.6" font-size="20">β</text>
<text x="199.3" y="197.9" font-size="20" textLength="10.2" lengthAdjust="spacingAndGlyphs">υ</text>
<text x="242.0" y="214.5" font-size="20">ι</text>
<text x="298.0" y="170.7" font-size="20" textLength="10.4" lengthAdjust="spacingAndGlyphs">τ</text>
<text x="353.0" y="125.9" font-size="19">θ</text>
<text x="175.0" y="250.7" font-size="19">κ</text>
<text x="242.5" y="277.1" font-size="20">δ</text>
<text x="279.0" y="331.5" font-size="20" textLength="10.0" lengthAdjust="spacingAndGlyphs">ζ</text>
<text x="227.0" y="389.4" font-size="20">λ</text>
<text x="347.5" y="248.5" font-size="20" textLength="10.0" lengthAdjust="spacingAndGlyphs">ε</text>
<text x="440.5" y="302.6" font-size="20">μ</text>
<text x="470.0" y="302.0" font-size="20">η</text>
<text x="498.5" y="288.0" font-size="20">ρ</text>
<text x="369.5" y="384.0" font-size="20">γ</text>
<text x="349.5" y="416.2" font-size="20" textLength="10.0" lengthAdjust="spacingAndGlyphs">ξ</text>
</g></mask>
<rect x="0" y="0" width="644" height="644" fill="#f6f6fc" mask="url(#thinmask)"/>
</svg></body></html>
